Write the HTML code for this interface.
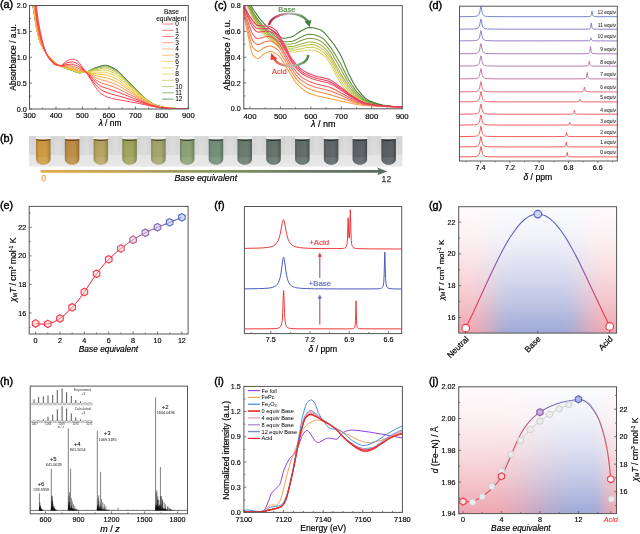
<!DOCTYPE html>
<html><head><meta charset="utf-8"><title>Figure</title>
<style>
html,body{margin:0;padding:0;background:#fff;width:640px;height:534px;overflow:hidden}
svg{display:block}
text{font-family:"Liberation Sans","DejaVu Sans",sans-serif}
</style></head><body>
<svg width="640" height="534" viewBox="0 0 640 534">
<rect width="640" height="534" fill="#fff"/>
<clipPath id="ca"><rect x="29.5" y="5.5" width="158.8" height="103.5"/></clipPath>
<g clip-path="url(#ca)" fill="none" stroke-width="1">
<path d="M29.5 -31.9L31.1 -12.1L32.7 3.5L33.5 9.2L36.7 29.1L38.3 35.9L39.4 40L40.6 43.3L42.2 46.9L43.8 49.8L45.8 52.8L47.8 55.3L51 58.8L53.8 61.6L55.8 63.2L57.8 64.5L60.5 66L63.7 67.5L67.3 68.9L73.3 70.7L77.3 72.5L78.9 72.8L82.8 72.5L85.2 72.2L86.4 72L88.4 71.2L94 68.3L99.5 66.4L102.3 65.6L104.3 65.3L105.9 65.3L107.5 65.5L109.1 66L111.5 67L115.5 69.2L118.3 71.2L121 73.9L126.2 79.3L138.6 91.9L146.9 99.7L149.3 101.6L151.7 103.1L154.9 104.7L158.1 105.9L160.8 106.7L164 107.3L168.8 108L173.6 108.4L182.3 108.9L188.3 109" stroke="#2f7038"/>
<path d="M29.5 -31.9L31.1 -12.1L32.7 3.5L33.5 9.2L36.7 29.1L38.3 35.9L39.4 40L40.6 43.3L42.2 46.9L43.8 49.8L45.8 52.8L47.8 55.3L51 58.8L53.8 61.6L55.4 62.9L57.4 64.2L60.1 65.8L63.3 67.3L66.9 68.8L73.3 70.7L76.9 72.3L78.5 72.7L82 72.6L85.2 72.2L86.4 72L88.4 71.2L94 68.6L99.5 66.8L102.3 66.1L104.3 65.8L105.9 65.7L107.5 66L109.1 66.5L111.5 67.5L115.5 69.6L118.3 71.6L121 74.2L126.2 79.6L138.6 92L146.9 99.8L149.3 101.7L151.7 103.2L154.9 104.7L158.1 105.9L160.8 106.7L164 107.3L168.8 108L173.6 108.4L182.3 108.9L188.3 109" stroke="#5e9242"/>
<path d="M29.5 -32.2L31.1 -12.3L32.7 3.3L33.5 9L36.7 29L38.3 35.9L39.4 40L40.6 43.3L42.2 46.9L43.8 49.8L45.8 52.8L47.8 55.3L51 58.8L53.8 61.6L55.4 62.9L57.4 64.2L60.1 65.8L63.3 67.3L66.9 68.7L73.3 70.7L76.9 72.3L78.5 72.7L81.6 72.6L86.4 72L88.4 71.3L93.6 69.2L99.9 67.5L102.3 67L104.3 66.8L105.9 66.8L107.5 67L109.1 67.5L111.5 68.5L115.5 70.6L118.3 72.6L121 75.1L126.2 80.4L138.6 92.4L146.9 99.9L149.3 101.8L151.7 103.3L154.9 104.8L158.1 106L160.8 106.8L164 107.3L168.8 108L173.6 108.4L182.3 108.9L188.3 109" stroke="#9cb456"/>
<path d="M29.5 -33L31.1 -13L32.7 2.9L33.5 8.7L34.7 15.8L36.3 26.5L37.1 30.8L37.9 34.2L39.1 38.6L40.2 42.2L41.8 46L43.4 49.1L45.4 52.2L47.4 54.8L51 58.9L53.8 61.6L55.4 62.9L57.4 64.2L60.1 65.8L62.9 67.1L66.5 68.5L73.3 70.6L76.9 72.2L78.5 72.6L81.2 72.5L86 72.1L88 71.6L93.6 70L102.7 68.3L105.9 68.2L107.5 68.5L109.1 69L111.5 70L115.5 72L118.3 73.9L121 76.4L126.2 81.4L138.6 93L147.3 100.5L149.7 102.3L151.7 103.4L154.9 104.9L158.1 106.1L160.8 106.8L164 107.4L168.8 108L173.6 108.4L182.3 108.9L188.3 109" stroke="#bcc246"/>
<path d="M29.5 -34.8L31.1 -14.4L32.7 1.8L33.5 7.8L36.3 26.2L37.1 30.5L37.9 34L39.1 38.4L40.2 42L41.8 45.9L43.4 49L45.4 52.2L47.4 54.8L50.6 58.5L53.4 61.3L55 62.7L57 64L59.3 65.4L62.1 66.7L66.5 68.4L73.3 70.4L76.9 72L78.5 72.4L80.8 72.4L86 72.1L93.2 70.9L96.4 70.7L103.1 70L106.3 70.2L109.1 70.9L111.5 71.9L115.5 73.8L118.3 75.6L121 77.9L126.2 82.7L138.6 93.6L147.3 100.8L149.7 102.5L151.7 103.6L155.3 105.2L158.1 106.2L160.8 106.9L164 107.4L168.8 108L173.6 108.4L182.3 108.9L188.3 109" stroke="#d6cc46"/>
<path d="M29.5 -38L31.1 -16.9L32.7 0.1L33.5 6.4L36.3 25.5L37.1 30L37.9 33.5L39.1 38L40.2 41.7L41.8 45.7L43.4 48.9L45.4 52.1L47.4 54.9L50.6 58.5L53.4 61.4L55 62.7L56.6 63.8L58.6 65L61.3 66.3L66.9 68.3L73.3 70.1L76.9 71.6L78.1 72L80.4 72.2L92.4 72L96.8 72.2L104.3 72.2L105.9 72.3L107.5 72.7L111.1 73.9L115.9 76.2L119 78.2L137 93.2L147.3 101.2L149.3 102.5L151.3 103.6L156.5 105.7L158.8 106.5L161.2 107.1L168.4 108L178.4 108.7L188.3 109" stroke="#ecd052"/>
<path d="M29.5 -43.1L31.1 -20.8L32.7 -2.8L33.5 4.1L36.3 24.5L37.5 31L38.7 35.9L39.8 40L41.4 44.4L43 47.9L45 51.5L47 54.4L50.2 58.2L53 61.1L54.6 62.5L56.2 63.6L58.2 64.8L60.9 66.1L64.9 67.4L73.3 69.6L76.9 71.1L78.1 71.5L79.6 71.7L84 71.9L87.6 72.2L92.4 73L96.8 74L105.9 74.9L108.7 75.6L112.7 77.2L116.3 78.8L119.4 80.8L137 94.2L147.3 101.6L150.9 103.7L155.7 105.6L158.5 106.5L160.8 107.1L167.6 108L177.2 108.7L188.3 109" stroke="#f4c236"/>
<path d="M29.5 -50.6L31.5 -21.2L33.1 -2.9L36.3 23L37.5 29.8L38.7 34.9L39.8 39.2L41.4 43.8L43 47.6L45 51.4L47 54.5L49 57L51.8 60.1L53.8 62L55.8 63.5L58.6 65L61.3 66.2L63.3 66.7L72.9 68.7L78.5 70.8L84.4 71.7L87.2 72.4L92.4 74.2L96.8 76L100.3 76.9L105.1 77.6L107.1 78.1L110.3 79.1L115.5 81.2L117.5 82.2L119.8 83.6L136.6 95.1L146.5 101.6L150.1 103.7L154.1 105.3L156.9 106.2L159.6 106.9L161.6 107.3L166 107.9L174.8 108.6L188.3 109" stroke="#f7b036"/>
<path d="M29.5 -60.9L31.5 -28.7L33.1 -8.2L35.9 17.7L37.1 26L38.3 31.9L39.4 36.6L41 41.9L42.6 46.2L44.6 50.5L46.6 53.9L48.6 56.7L51 59.5L53.4 61.9L55.4 63.5L57.4 64.6L60.1 65.8L62.1 66.3L70.5 67.1L73.7 67.8L78.5 69.8L84 71.3L86.8 72.4L89.2 73.6L96 77.8L98.4 78.9L101.1 79.8L107.9 81.5L116.3 84.6L120.2 86.7L136.2 96.2L146.1 102L149.3 103.7L151.7 104.7L158.1 106.7L160.8 107.3L163.6 107.7L168.4 108.2L173.6 108.5L181.9 108.9L188.3 109" stroke="#fb9a52"/>
<path d="M29.5 -74.7L31.5 -38.6L33.1 -15.1L35.5 10.9L36.3 18.1L37.1 23.7L38.3 30L39.4 35L41 40.7L42.6 45.5L44.2 49.3L46.2 53.3L47.8 55.9L50.2 58.9L52.6 61.4L55 63.5L57 64.6L59.7 65.6L61.7 66L66.1 65.7L71.7 65.9L74.1 66.5L77.7 68L84 70.9L86.8 72.6L88.8 74L96 80.1L99.5 82.2L101.9 83.2L109.1 85.4L115.5 87.6L117.9 88.6L146.5 102.9L150.9 104.8L157.7 106.8L160.4 107.4L163.2 107.7L173.2 108.5L188.3 109" stroke="#ff7452"/>
<path d="M29.5 -92.5L31.5 -51.5L33.1 -24.1L35.1 2L36.7 17.7L37.5 23.1L38.7 29.4L40.2 36.2L42.2 43.3L43.8 47.9L45.8 52.5L47.4 55.5L49.4 58.4L51.8 61.1L54.6 63.6L56.2 64.5L59.3 65.6L60.5 65.9L61.7 65.8L66.1 64.6L71.3 64.1L73.7 64.5L77.3 66L78.9 66.9L83.6 70.2L86 72L88.4 74.3L96 82.5L98.8 84.8L101.1 86.3L102.7 87L105.5 88L115.9 91.3L119 92.5L148.9 104.5L151.3 105.3L156.1 106.6L158.8 107.2L161.6 107.7L166.8 108.2L172.4 108.5L188.3 109" stroke="#ff4040"/>
<path d="M29.5 -115L31.5 -67.7L33.1 -35.5L35.1 -4.2L35.9 5.7L36.7 13.5L37.5 19.5L38.7 26.5L40.6 35.6L42.2 41.9L43.8 47.1L45.4 51.4L47.4 55.8L49 58.3L51.4 61.2L54.6 64L55.8 64.7L59 65.6L60.5 65.8L61.3 65.7L62.5 65.2L64.9 63.7L66.1 63.1L69.3 62.3L70.9 62L72.5 61.9L73.7 62.1L75.3 62.7L77.3 63.6L78.1 64.1L79.2 65.2L84 69.9L86.4 72.5L88.4 74.9L95.2 84.2L97.6 86.8L99.5 88.6L101.5 90.1L103.9 91.3L107.1 92.6L110.7 93.8L118.3 95.9L139.7 102.1L149.7 105.3L157.7 107.2L161.6 107.8L168.8 108.4L179.1 108.8L188.3 109" stroke="#ff3444"/>
<path d="M29.5 -142.6L31.5 -87.6L33.1 -49.4L34.7 -18.3L35.5 -5.8L36.3 4.2L37.1 12L38.3 20.5L39.8 29.1L41.8 38.6L43.4 44.9L45 50L47 55.2L48.6 58.2L49.8 59.9L51 61.4L54.2 64.4L55 64.9L55.8 65.2L59 65.7L60.5 65.8L61.3 65.5L62.5 64.6L64.9 62.3L66.1 61.4L68.9 60L70.9 59.3L72.5 59.1L73.7 59.2L75.3 59.7L77.3 60.7L78.1 61.3L79.2 62.7L86 72L88.4 75.7L94.8 86.2L97.2 89.5L99.9 92.6L101.9 94.3L104.7 95.9L107.9 97.3L111.5 98.3L117.1 99.5L139.3 103.5L150.1 105.9L159.2 107.7L163.2 108.1L170.4 108.5L188.3 109" stroke="#ff4a5c"/>
</g>
<rect x="29.5" y="5.5" width="158.8" height="103.5" fill="none" stroke="#555" stroke-width="1"/>
<line x1="29.5" y1="109" x2="29.5" y2="106.5" stroke="#555" stroke-width="0.8"/>
<text x="29.5" y="118.4" font-size="7.6" text-anchor="middle" fill="#000" stroke="#000" stroke-width="0.16">300</text>
<line x1="42.73" y1="109" x2="42.73" y2="107.5" stroke="#555" stroke-width="0.8"/>
<line x1="55.97" y1="109" x2="55.97" y2="106.5" stroke="#555" stroke-width="0.8"/>
<text x="55.97" y="118.4" font-size="7.6" text-anchor="middle" fill="#000" stroke="#000" stroke-width="0.16">400</text>
<line x1="69.2" y1="109" x2="69.2" y2="107.5" stroke="#555" stroke-width="0.8"/>
<line x1="82.43" y1="109" x2="82.43" y2="106.5" stroke="#555" stroke-width="0.8"/>
<text x="82.43" y="118.4" font-size="7.6" text-anchor="middle" fill="#000" stroke="#000" stroke-width="0.16">500</text>
<line x1="95.67" y1="109" x2="95.67" y2="107.5" stroke="#555" stroke-width="0.8"/>
<line x1="108.9" y1="109" x2="108.9" y2="106.5" stroke="#555" stroke-width="0.8"/>
<text x="108.9" y="118.4" font-size="7.6" text-anchor="middle" fill="#000" stroke="#000" stroke-width="0.16">600</text>
<line x1="122.13" y1="109" x2="122.13" y2="107.5" stroke="#555" stroke-width="0.8"/>
<line x1="135.37" y1="109" x2="135.37" y2="106.5" stroke="#555" stroke-width="0.8"/>
<text x="135.37" y="118.4" font-size="7.6" text-anchor="middle" fill="#000" stroke="#000" stroke-width="0.16">700</text>
<line x1="148.6" y1="109" x2="148.6" y2="107.5" stroke="#555" stroke-width="0.8"/>
<line x1="161.83" y1="109" x2="161.83" y2="106.5" stroke="#555" stroke-width="0.8"/>
<text x="161.83" y="118.4" font-size="7.6" text-anchor="middle" fill="#000" stroke="#000" stroke-width="0.16">800</text>
<line x1="175.07" y1="109" x2="175.07" y2="107.5" stroke="#555" stroke-width="0.8"/>
<line x1="188.3" y1="109" x2="188.3" y2="106.5" stroke="#555" stroke-width="0.8"/>
<text x="188.3" y="118.4" font-size="7.6" text-anchor="middle" fill="#000" stroke="#000" stroke-width="0.16">900</text>
<line x1="29.5" y1="109" x2="32" y2="109" stroke="#555" stroke-width="0.8"/>
<text x="26.8" y="111.5" font-size="7.2" text-anchor="end" fill="#000" stroke="#000" stroke-width="0.15">0.0</text>
<line x1="29.5" y1="96.06" x2="31" y2="96.06" stroke="#555" stroke-width="0.8"/>
<line x1="29.5" y1="83.12" x2="32" y2="83.12" stroke="#555" stroke-width="0.8"/>
<text x="26.8" y="85.62" font-size="7.2" text-anchor="end" fill="#000" stroke="#000" stroke-width="0.15">0.5</text>
<line x1="29.5" y1="70.19" x2="31" y2="70.19" stroke="#555" stroke-width="0.8"/>
<line x1="29.5" y1="57.25" x2="32" y2="57.25" stroke="#555" stroke-width="0.8"/>
<text x="26.8" y="59.75" font-size="7.2" text-anchor="end" fill="#000" stroke="#000" stroke-width="0.15">1.0</text>
<line x1="29.5" y1="44.31" x2="31" y2="44.31" stroke="#555" stroke-width="0.8"/>
<line x1="29.5" y1="31.38" x2="32" y2="31.38" stroke="#555" stroke-width="0.8"/>
<text x="26.8" y="33.88" font-size="7.2" text-anchor="end" fill="#000" stroke="#000" stroke-width="0.15">1.5</text>
<line x1="29.5" y1="18.44" x2="31" y2="18.44" stroke="#555" stroke-width="0.8"/>
<line x1="29.5" y1="5.5" x2="32" y2="5.5" stroke="#555" stroke-width="0.8"/>
<text x="26.8" y="8" font-size="7.2" text-anchor="end" fill="#000" stroke="#000" stroke-width="0.15">2.0</text>
<text x="15.6" y="57.4" font-size="8.5" text-anchor="middle" fill="#000" stroke="#000" stroke-width="0.18" transform="rotate(-90 15.6 57.4)">Absorbance / a.u.</text>
<text x="110" y="126" font-size="8.4" text-anchor="middle" fill="#000" stroke="#000" stroke-width="0.18"><tspan font-style="italic">λ</tspan> / nm</text>
<text x="171.4" y="13.9" font-size="6.6" text-anchor="middle" fill="#000" stroke="#000" stroke-width="0.05">Base</text>
<text x="171.2" y="21.4" font-size="6.6" text-anchor="middle" fill="#000" stroke="#000" stroke-width="0.05">equivalent</text>
<line x1="162.2" y1="24" x2="173.8" y2="24" stroke="#ff4a5c" stroke-width="0.85" opacity="0.8"/>
<text x="175.2" y="26.3" font-size="6.6" text-anchor="start" fill="#000" stroke="#000" stroke-width="0.05">0</text>
<line x1="162.2" y1="30.26" x2="173.8" y2="30.26" stroke="#ff3444" stroke-width="0.85" opacity="0.8"/>
<text x="175.2" y="32.56" font-size="6.6" text-anchor="start" fill="#000" stroke="#000" stroke-width="0.05">1</text>
<line x1="162.2" y1="36.52" x2="173.8" y2="36.52" stroke="#ff4040" stroke-width="0.85" opacity="0.8"/>
<text x="175.2" y="38.82" font-size="6.6" text-anchor="start" fill="#000" stroke="#000" stroke-width="0.05">2</text>
<line x1="162.2" y1="42.78" x2="173.8" y2="42.78" stroke="#ff7452" stroke-width="0.85" opacity="0.8"/>
<text x="175.2" y="45.08" font-size="6.6" text-anchor="start" fill="#000" stroke="#000" stroke-width="0.05">3</text>
<line x1="162.2" y1="49.04" x2="173.8" y2="49.04" stroke="#fb9a52" stroke-width="0.85" opacity="0.8"/>
<text x="175.2" y="51.34" font-size="6.6" text-anchor="start" fill="#000" stroke="#000" stroke-width="0.05">4</text>
<line x1="162.2" y1="55.3" x2="173.8" y2="55.3" stroke="#f7b036" stroke-width="0.85" opacity="0.8"/>
<text x="175.2" y="57.6" font-size="6.6" text-anchor="start" fill="#000" stroke="#000" stroke-width="0.05">5</text>
<line x1="162.2" y1="61.56" x2="173.8" y2="61.56" stroke="#f4c236" stroke-width="0.85" opacity="0.8"/>
<text x="175.2" y="63.86" font-size="6.6" text-anchor="start" fill="#000" stroke="#000" stroke-width="0.05">6</text>
<line x1="162.2" y1="67.82" x2="173.8" y2="67.82" stroke="#ecd052" stroke-width="0.85" opacity="0.8"/>
<text x="175.2" y="70.12" font-size="6.6" text-anchor="start" fill="#000" stroke="#000" stroke-width="0.05">7</text>
<line x1="162.2" y1="74.08" x2="173.8" y2="74.08" stroke="#d6cc46" stroke-width="0.85" opacity="0.8"/>
<text x="175.2" y="76.38" font-size="6.6" text-anchor="start" fill="#000" stroke="#000" stroke-width="0.05">8</text>
<line x1="162.2" y1="80.34" x2="173.8" y2="80.34" stroke="#bcc246" stroke-width="0.85" opacity="0.8"/>
<text x="175.2" y="82.64" font-size="6.6" text-anchor="start" fill="#000" stroke="#000" stroke-width="0.05">9</text>
<line x1="162.2" y1="86.6" x2="173.8" y2="86.6" stroke="#9cb456" stroke-width="0.85" opacity="0.8"/>
<text x="175.2" y="88.9" font-size="6.6" text-anchor="start" fill="#000" stroke="#000" stroke-width="0.05">10</text>
<line x1="162.2" y1="92.86" x2="173.8" y2="92.86" stroke="#5e9242" stroke-width="0.85" opacity="0.8"/>
<text x="175.2" y="95.16" font-size="6.6" text-anchor="start" fill="#000" stroke="#000" stroke-width="0.05">11</text>
<line x1="162.2" y1="99.12" x2="173.8" y2="99.12" stroke="#2f7038" stroke-width="0.85" opacity="0.8"/>
<text x="175.2" y="101.42" font-size="6.6" text-anchor="start" fill="#000" stroke="#000" stroke-width="0.05">12</text>
<text x="0" y="8" font-size="10.8" text-anchor="start" fill="#000" stroke="#000" stroke-width="0.4">(a)</text>
<defs><linearGradient id="bg_b" x1="0" y1="0" x2="0" y2="1"><stop offset="0" stop-color="#dadada"/><stop offset="0.08" stop-color="#d4d4d4"/><stop offset="0.6" stop-color="#d8d8d8"/><stop offset="0.63" stop-color="#e4e4e4"/><stop offset="1" stop-color="#e8e8e8"/></linearGradient><linearGradient id="tube_sh" x1="0" y1="0" x2="1" y2="0"><stop offset="0" stop-color="#000" stop-opacity="0.22"/><stop offset="0.25" stop-color="#fff" stop-opacity="0.04"/><stop offset="0.6" stop-color="#fff" stop-opacity="0.07"/><stop offset="1" stop-color="#000" stop-opacity="0.22"/></linearGradient><linearGradient id="tube_v" x1="0" y1="0" x2="0" y2="1"><stop offset="0" stop-color="#000" stop-opacity="0.05"/><stop offset="0.7" stop-color="#fff" stop-opacity="0"/><stop offset="0.72" stop-color="#fff" stop-opacity="0.1"/><stop offset="1" stop-color="#fff" stop-opacity="0.1"/></linearGradient><linearGradient id="arr_b" gradientUnits="userSpaceOnUse" x1="41" y1="0" x2="387" y2="0"><stop offset="0" stop-color="#e6a84c"/><stop offset="0.25" stop-color="#c3a058"/><stop offset="0.5" stop-color="#86975f"/><stop offset="0.75" stop-color="#687c64"/><stop offset="1" stop-color="#5b6a62"/></linearGradient></defs>
<rect x="29.1" y="136.0" width="373.29999999999995" height="30.599999999999994" fill="url(#bg_b)"/>
<rect x="54.7" y="137" width="6" height="17" fill="#fff" opacity="0.12"/>
<rect x="83.48" y="137" width="6" height="17" fill="#fff" opacity="0.12"/>
<rect x="112.26" y="137" width="6" height="17" fill="#fff" opacity="0.12"/>
<rect x="141.04" y="137" width="6" height="17" fill="#fff" opacity="0.12"/>
<rect x="169.82" y="137" width="6" height="17" fill="#fff" opacity="0.12"/>
<rect x="198.6" y="137" width="6" height="17" fill="#fff" opacity="0.12"/>
<rect x="227.38" y="137" width="6" height="17" fill="#fff" opacity="0.12"/>
<rect x="256.16" y="137" width="6" height="17" fill="#fff" opacity="0.12"/>
<rect x="284.94" y="137" width="6" height="17" fill="#fff" opacity="0.12"/>
<rect x="313.72" y="137" width="6" height="17" fill="#fff" opacity="0.12"/>
<rect x="342.5" y="137" width="6" height="17" fill="#fff" opacity="0.12"/>
<rect x="371.28" y="137" width="6" height="17" fill="#fff" opacity="0.12"/>
<rect x="35.9" y="136.6" width="14.8" height="3.0" rx="0.8" fill="#efefef"/>
<path d="M36.1 139.3 L50.5 139.3 L50.5 159 C50.5 162.2 47.5 164.8 43.3 164.8 C39.1 164.8 36.1 162.2 36.1 159 Z" fill="#cc9534"/>
<path d="M36.1 139.3 L50.5 139.3 L50.5 159 C50.5 162.2 47.5 164.8 43.3 164.8 C39.1 164.8 36.1 162.2 36.1 159 Z" fill="url(#tube_v)"/>
<path d="M36.1 139.3 L50.5 139.3 L50.5 159 C50.5 162.2 47.5 164.8 43.3 164.8 C39.1 164.8 36.1 162.2 36.1 159 Z" fill="url(#tube_sh)"/>
<path d="M36.1 139.3 Q43.3 140.5 50.5 139.3 L50.5 139.9 Q43.3 141.9 36.1 139.9 Z" fill="#5a3018" opacity="0.9"/>
<rect x="64.68" y="136.6" width="14.8" height="3.0" rx="0.8" fill="#efefef"/>
<path d="M64.88 139.3 L79.28 139.3 L79.28 159 C79.28 162.2 76.28 164.8 72.08 164.8 C67.88 164.8 64.88 162.2 64.88 159 Z" fill="#ba8738"/>
<path d="M64.88 139.3 L79.28 139.3 L79.28 159 C79.28 162.2 76.28 164.8 72.08 164.8 C67.88 164.8 64.88 162.2 64.88 159 Z" fill="url(#tube_v)"/>
<path d="M64.88 139.3 L79.28 139.3 L79.28 159 C79.28 162.2 76.28 164.8 72.08 164.8 C67.88 164.8 64.88 162.2 64.88 159 Z" fill="url(#tube_sh)"/>
<path d="M64.88 139.3 Q72.08 140.5 79.28 139.3 L79.28 139.9 Q72.08 141.9 64.88 139.9 Z" fill="#5a3018" opacity="0.9"/>
<rect x="93.46" y="136.6" width="14.8" height="3.0" rx="0.8" fill="#efefef"/>
<path d="M93.66 139.3 L108.06 139.3 L108.06 159 C108.06 162.2 105.06 164.8 100.86 164.8 C96.66 164.8 93.66 162.2 93.66 159 Z" fill="#b2a056"/>
<path d="M93.66 139.3 L108.06 139.3 L108.06 159 C108.06 162.2 105.06 164.8 100.86 164.8 C96.66 164.8 93.66 162.2 93.66 159 Z" fill="url(#tube_v)"/>
<path d="M93.66 139.3 L108.06 139.3 L108.06 159 C108.06 162.2 105.06 164.8 100.86 164.8 C96.66 164.8 93.66 162.2 93.66 159 Z" fill="url(#tube_sh)"/>
<path d="M93.66 139.3 Q100.86 140.5 108.06 139.3 L108.06 139.9 Q100.86 141.9 93.66 139.9 Z" fill="#4a3a20" opacity="0.9"/>
<rect x="122.24" y="136.6" width="14.8" height="3.0" rx="0.8" fill="#efefef"/>
<path d="M122.44 139.3 L136.84 139.3 L136.84 159 C136.84 162.2 133.84 164.8 129.64 164.8 C125.44 164.8 122.44 162.2 122.44 159 Z" fill="#9aa052"/>
<path d="M122.44 139.3 L136.84 139.3 L136.84 159 C136.84 162.2 133.84 164.8 129.64 164.8 C125.44 164.8 122.44 162.2 122.44 159 Z" fill="url(#tube_v)"/>
<path d="M122.44 139.3 L136.84 139.3 L136.84 159 C136.84 162.2 133.84 164.8 129.64 164.8 C125.44 164.8 122.44 162.2 122.44 159 Z" fill="url(#tube_sh)"/>
<path d="M122.44 139.3 Q129.64 140.5 136.84 139.3 L136.84 139.9 Q129.64 141.9 122.44 139.9 Z" fill="#3a3a20" opacity="0.9"/>
<rect x="151.02" y="136.6" width="14.8" height="3.0" rx="0.8" fill="#efefef"/>
<path d="M151.22 139.3 L165.62 139.3 L165.62 159 C165.62 162.2 162.62 164.8 158.42 164.8 C154.22 164.8 151.22 162.2 151.22 159 Z" fill="#9ea062"/>
<path d="M151.22 139.3 L165.62 139.3 L165.62 159 C165.62 162.2 162.62 164.8 158.42 164.8 C154.22 164.8 151.22 162.2 151.22 159 Z" fill="url(#tube_v)"/>
<path d="M151.22 139.3 L165.62 139.3 L165.62 159 C165.62 162.2 162.62 164.8 158.42 164.8 C154.22 164.8 151.22 162.2 151.22 159 Z" fill="url(#tube_sh)"/>
<path d="M151.22 139.3 Q158.42 140.5 165.62 139.3 L165.62 139.9 Q158.42 141.9 151.22 139.9 Z" fill="#303828" opacity="0.9"/>
<rect x="179.8" y="136.6" width="14.8" height="3.0" rx="0.8" fill="#efefef"/>
<path d="M180 139.3 L194.4 139.3 L194.4 159 C194.4 162.2 191.4 164.8 187.2 164.8 C183 164.8 180 162.2 180 159 Z" fill="#869c6e"/>
<path d="M180 139.3 L194.4 139.3 L194.4 159 C194.4 162.2 191.4 164.8 187.2 164.8 C183 164.8 180 162.2 180 159 Z" fill="url(#tube_v)"/>
<path d="M180 139.3 L194.4 139.3 L194.4 159 C194.4 162.2 191.4 164.8 187.2 164.8 C183 164.8 180 162.2 180 159 Z" fill="url(#tube_sh)"/>
<path d="M180 139.3 Q187.2 140.5 194.4 139.3 L194.4 139.9 Q187.2 141.9 180 139.9 Z" fill="#2c3428" opacity="0.9"/>
<rect x="208.58" y="136.6" width="14.8" height="3.0" rx="0.8" fill="#efefef"/>
<path d="M208.78 139.3 L223.18 139.3 L223.18 159 C223.18 162.2 220.18 164.8 215.98 164.8 C211.78 164.8 208.78 162.2 208.78 159 Z" fill="#6c8870"/>
<path d="M208.78 139.3 L223.18 139.3 L223.18 159 C223.18 162.2 220.18 164.8 215.98 164.8 C211.78 164.8 208.78 162.2 208.78 159 Z" fill="url(#tube_v)"/>
<path d="M208.78 139.3 L223.18 139.3 L223.18 159 C223.18 162.2 220.18 164.8 215.98 164.8 C211.78 164.8 208.78 162.2 208.78 159 Z" fill="url(#tube_sh)"/>
<path d="M208.78 139.3 Q215.98 140.5 223.18 139.3 L223.18 139.9 Q215.98 141.9 208.78 139.9 Z" fill="#283028" opacity="0.9"/>
<rect x="237.36" y="136.6" width="14.8" height="3.0" rx="0.8" fill="#efefef"/>
<path d="M237.56 139.3 L251.96 139.3 L251.96 159 C251.96 162.2 248.96 164.8 244.76 164.8 C240.56 164.8 237.56 162.2 237.56 159 Z" fill="#607466"/>
<path d="M237.56 139.3 L251.96 139.3 L251.96 159 C251.96 162.2 248.96 164.8 244.76 164.8 C240.56 164.8 237.56 162.2 237.56 159 Z" fill="url(#tube_v)"/>
<path d="M237.56 139.3 L251.96 139.3 L251.96 159 C251.96 162.2 248.96 164.8 244.76 164.8 C240.56 164.8 237.56 162.2 237.56 159 Z" fill="url(#tube_sh)"/>
<path d="M237.56 139.3 Q244.76 140.5 251.96 139.3 L251.96 139.9 Q244.76 141.9 237.56 139.9 Z" fill="#283028" opacity="0.9"/>
<rect x="266.14" y="136.6" width="14.8" height="3.0" rx="0.8" fill="#efefef"/>
<path d="M266.34 139.3 L280.74 139.3 L280.74 159 C280.74 162.2 277.74 164.8 273.54 164.8 C269.34 164.8 266.34 162.2 266.34 159 Z" fill="#5a6a62"/>
<path d="M266.34 139.3 L280.74 139.3 L280.74 159 C280.74 162.2 277.74 164.8 273.54 164.8 C269.34 164.8 266.34 162.2 266.34 159 Z" fill="url(#tube_v)"/>
<path d="M266.34 139.3 L280.74 139.3 L280.74 159 C280.74 162.2 277.74 164.8 273.54 164.8 C269.34 164.8 266.34 162.2 266.34 159 Z" fill="url(#tube_sh)"/>
<path d="M266.34 139.3 Q273.54 140.5 280.74 139.3 L280.74 139.9 Q273.54 141.9 266.34 139.9 Z" fill="#262c2c" opacity="0.9"/>
<rect x="294.92" y="136.6" width="14.8" height="3.0" rx="0.8" fill="#efefef"/>
<path d="M295.12 139.3 L309.52 139.3 L309.52 159 C309.52 162.2 306.52 164.8 302.32 164.8 C298.12 164.8 295.12 162.2 295.12 159 Z" fill="#586462"/>
<path d="M295.12 139.3 L309.52 139.3 L309.52 159 C309.52 162.2 306.52 164.8 302.32 164.8 C298.12 164.8 295.12 162.2 295.12 159 Z" fill="url(#tube_v)"/>
<path d="M295.12 139.3 L309.52 139.3 L309.52 159 C309.52 162.2 306.52 164.8 302.32 164.8 C298.12 164.8 295.12 162.2 295.12 159 Z" fill="url(#tube_sh)"/>
<path d="M295.12 139.3 Q302.32 140.5 309.52 139.3 L309.52 139.9 Q302.32 141.9 295.12 139.9 Z" fill="#262a2c" opacity="0.9"/>
<rect x="323.7" y="136.6" width="14.8" height="3.0" rx="0.8" fill="#efefef"/>
<path d="M323.9 139.3 L338.3 139.3 L338.3 159 C338.3 162.2 335.3 164.8 331.1 164.8 C326.9 164.8 323.9 162.2 323.9 159 Z" fill="#555d5f"/>
<path d="M323.9 139.3 L338.3 139.3 L338.3 159 C338.3 162.2 335.3 164.8 331.1 164.8 C326.9 164.8 323.9 162.2 323.9 159 Z" fill="url(#tube_v)"/>
<path d="M323.9 139.3 L338.3 139.3 L338.3 159 C338.3 162.2 335.3 164.8 331.1 164.8 C326.9 164.8 323.9 162.2 323.9 159 Z" fill="url(#tube_sh)"/>
<path d="M323.9 139.3 Q331.1 140.5 338.3 139.3 L338.3 139.9 Q331.1 141.9 323.9 139.9 Z" fill="#26282a" opacity="0.9"/>
<rect x="352.48" y="136.6" width="14.8" height="3.0" rx="0.8" fill="#efefef"/>
<path d="M352.68 139.3 L367.08 139.3 L367.08 159 C367.08 162.2 364.08 164.8 359.88 164.8 C355.68 164.8 352.68 162.2 352.68 159 Z" fill="#51585c"/>
<path d="M352.68 139.3 L367.08 139.3 L367.08 159 C367.08 162.2 364.08 164.8 359.88 164.8 C355.68 164.8 352.68 162.2 352.68 159 Z" fill="url(#tube_v)"/>
<path d="M352.68 139.3 L367.08 139.3 L367.08 159 C367.08 162.2 364.08 164.8 359.88 164.8 C355.68 164.8 352.68 162.2 352.68 159 Z" fill="url(#tube_sh)"/>
<path d="M352.68 139.3 Q359.88 140.5 367.08 139.3 L367.08 139.9 Q359.88 141.9 352.68 139.9 Z" fill="#262628" opacity="0.9"/>
<rect x="381.26" y="136.6" width="14.8" height="3.0" rx="0.8" fill="#efefef"/>
<path d="M381.46 139.3 L395.86 139.3 L395.86 159 C395.86 162.2 392.86 164.8 388.66 164.8 C384.46 164.8 381.46 162.2 381.46 159 Z" fill="#4e5458"/>
<path d="M381.46 139.3 L395.86 139.3 L395.86 159 C395.86 162.2 392.86 164.8 388.66 164.8 C384.46 164.8 381.46 162.2 381.46 159 Z" fill="url(#tube_v)"/>
<path d="M381.46 139.3 L395.86 139.3 L395.86 159 C395.86 162.2 392.86 164.8 388.66 164.8 C384.46 164.8 381.46 162.2 381.46 159 Z" fill="url(#tube_sh)"/>
<path d="M381.46 139.3 Q388.66 140.5 395.86 139.3 L395.86 139.9 Q388.66 141.9 381.46 139.9 Z" fill="#262628" opacity="0.9"/>
<path d="M41.8 171.4 L379 171.4" stroke="url(#arr_b)" stroke-width="2.8" stroke-linecap="round" fill="none"/>
<path d="M377.2 167.6 L387.4 171.4 L377.2 175.2 L379.2 171.4 Z" fill="#5b6a62"/>
<text x="43.6" y="181" font-size="8.6" text-anchor="middle" fill="#e6a84c" stroke="#e6a84c" stroke-width="0.3">0</text>
<text x="386.4" y="181.6" font-size="8.6" text-anchor="middle" fill="#3c4440" stroke="#3c4440" stroke-width="0.25">12</text>
<text x="205.8" y="180.9" font-size="8.8" text-anchor="middle" fill="#000" font-style="italic" stroke="#000" stroke-width="0.18">Base equivalent</text>
<text x="0" y="142.4" font-size="10.8" text-anchor="start" fill="#000" stroke="#000" stroke-width="0.4">(b)</text>
<clipPath id="cc"><rect x="243.8" y="5.6" width="158.5" height="103.2"/></clipPath>
<g clip-path="url(#cc)" fill="none" stroke-width="1.05">
<path d="M240.9 -8.2L244.6 0.2L252.9 18.5L255.2 23L257.5 26.8L260.3 30.3L263.5 33.8L275.1 44.1L277.8 46.4L280.2 47.8L284.8 49.9L288 51.2L290.8 51.8L292.6 52L295.4 51.9L304.6 50.6L310.2 50.1L313 50L314.3 50.2L316.2 50.8L318 51.8L320.4 53.2L323.6 55.4L325.4 57.1L327.7 59.9L330.1 63.1L331.4 65.4L335.6 74.3L338.4 79.3L342.1 85.4L344.8 89.2L348.5 93.2L351.8 96.2L354.6 98.2L358.7 100.4L362.4 102.1L365.6 103.2L368.4 103.8L373.5 104.7L379 105.4L385.5 106.1L394.8 106.7L402.1 107" stroke="#ddd060"/>
<path d="M240.9 -8.9L245 0.5L252.4 16.4L255.2 21.7L257.5 25.5L260.7 29.6L264 32.9L275.1 42.8L277.8 45L280.2 46.5L284.3 48.4L287.5 49.4L290.8 50L292.6 50.1L294.9 49.9L304.6 48L307.9 47.6L310.7 47.4L312.5 47.3L313.9 47.5L315.7 48L317.6 48.8L320.4 50.4L323.6 52.6L325.4 54.3L327.7 57.1L331 61.7L336.1 71.8L340.2 79.1L343.9 85L346.7 88.7L349.5 91.9L352.7 95.1L355.5 97.3L359.6 99.8L363.3 101.7L366.6 102.9L370.7 103.9L376.7 105L383.2 105.8L393.8 106.6L402.1 107" stroke="#cfca56"/>
<path d="M240.9 -9.6L245 -0.3L252 14.3L254.7 19.6L257.5 24.2L260.7 28.2L264.4 32.1L275.1 41.4L278.3 44L280.6 45.4L283.8 46.8L287.1 47.8L290.3 48.2L292.6 48.2L294.5 48L304.2 45.5L307 45L309.3 44.7L312 44.6L313.9 44.8L315.7 45.3L318 46.3L320.8 47.9L323.6 49.8L325.4 51.6L327.7 54.3L330.5 58.1L331.4 59.6L336.1 68.5L342.5 79.6L345.8 84.7L348.5 88.5L351.8 92.3L354.6 95L357.3 97.2L361.5 99.9L365.2 101.8L368 102.8L372.6 104L378.6 105.1L384.6 105.8L394.3 106.6L402.1 107" stroke="#bcc050"/>
<path d="M240.9 -10.3L245.5 -0.1L251 11.4L254.7 18.4L257.5 22.8L260.7 26.9L264.4 30.8L268.6 34.5L276 40.9L278.3 42.7L280.6 44.1L283.8 45.5L287.1 46.2L289.9 46.5L292.2 46.4L294 46.2L304.2 42.9L306.5 42.4L308.8 42L311.6 42L313.9 42.2L316.2 42.8L319 44.1L321.7 45.7L324.1 47.4L326.4 49.8L328.7 52.7L331.4 56.7L335.6 64.4L343.9 78.9L348.1 85.5L350.9 89.2L353.6 92.4L356.4 95.1L359.2 97.4L362.9 99.9L366.1 101.7L369.3 102.8L374.4 104.1L380 105.1L386 105.9L394.8 106.6L402.1 107" stroke="#a2b248"/>
<path d="M240.9 -11.3L245 -2.1L250.1 8.2L254.3 15.9L257.5 21.1L261.2 25.7L264.9 29.5L269.1 33.3L278.3 40.9L280.6 42.4L283.4 43.5L285.7 44L288.5 44.2L291.2 44.1L294 43.6L295.9 42.9L300 41L304.2 39.5L306.5 38.8L308.8 38.4L312 38.4L314.3 38.7L317.1 39.6L320.8 41.3L323.1 42.9L325 44.6L327.3 47.2L330.5 51.4L332.4 54.3L340.7 68.7L346.2 79.1L349 83.7L352.2 88.3L355 91.8L357.8 94.6L361.5 97.8L364.3 99.9L367 101.4L371.2 102.9L376.3 104.2L381.4 105.2L388.3 106L395.7 106.7L402.1 107" stroke="#86a042"/>
<path d="M240.9 -12.4L245 -3.3L249.7 5.9L254.3 14.1L258 19.7L261.7 24.3L265.4 28.1L269.5 31.7L278.3 38.9L281.1 40.6L283.4 41.5L284.8 41.8L286.6 41.8L289.9 41.6L292.2 41.2L294 40.7L295.9 39.8L299.6 37.7L304.2 35.6L307 34.6L309.3 34.3L312.5 34.4L314.8 34.9L318 35.9L321.3 37.4L323.6 39L325.4 40.9L327.7 43.6L331.4 48.4L337 57.4L340.7 63.7L347.6 77.7L349 80.3L351.8 84.8L354.6 88.9L356.9 91.8L360.1 95.2L362.9 97.7L365.6 99.8L368 101.1L372.6 102.8L377.7 104.3L382.3 105.2L390.1 106.2L396.6 106.7L402.1 107" stroke="#66903c"/>
<path d="M240.9 -14.2L245 -5.2L249.2 2.8L254.3 11L258.9 17.6L262.6 22.1L266.3 25.8L269.5 28.6L278.8 35.9L281.1 37.4L282.5 38L283.4 38.2L284.3 38.2L286.2 38.1L289.4 37.4L293.1 36.2L294 35.8L295.4 34.9L300 31.5L305.6 28.5L307 27.9L308.3 27.6L311.1 27.6L314.3 28.1L318.5 29.3L320.8 30.1L321.7 30.6L324.1 32.5L326.8 35.5L332.4 42.3L336.5 48.3L338.8 52.1L341.2 56.2L343 60.3L348.5 73.6L353.6 83.3L355.9 87.1L357.8 89.7L361.5 94.3L364.3 97.2L366.6 99.1L369.3 100.7L374 102.6L378.6 104.1L382.7 105L391.1 106.2L397.1 106.8L402.1 107" stroke="#447a34"/>
<path d="M240.9 -17.8L242.7 5L244.1 15.4L245.5 23.3L250.1 45.3L251.5 51.3L252.4 54L252.9 54.9L255.2 57.3L256.1 57.9L257 58.3L258 58.5L258.9 58.3L260.3 57.3L262.6 55L264 53.9L267.2 52.3L269.5 51.6L270.9 51.5L272.3 51.8L274.1 52.5L276 53.6L278.8 55.6L280.6 57.9L293.6 79.2L295.4 81.9L297.2 84.2L300.9 87.7L305.1 90.9L308.8 93L312.5 94.5L317.6 95.9L329.1 98.6L343.9 101.7L353.2 103.8L358.2 104.7L365.2 105.4L374.4 106.1L389.7 106.8L402.1 107.2" stroke="#f5a040"/>
<path d="M240.9 -15.7L242.7 3.8L244.1 13L245.5 20L250.1 39.1L251.5 44.1L252.4 46.6L252.9 47.4L254.3 49L255.7 50.3L256.6 50.9L257.5 51.2L258.4 51.2L258.9 51.1L260.3 50.4L262.6 48.6L264 47.7L267.2 46.5L269.5 46L270.9 46.1L272.3 46.5L274.1 47.3L276 48.5L278.3 50.5L280.2 52.8L282 55.8L292.2 73L294.5 76.6L296.8 79.6L300 82.8L303.3 85.4L307 87.8L310.7 89.5L313.4 90.5L316.7 91.4L325.4 93.4L331 94.9L342.5 98.6L352.7 102.1L357.3 103.4L360.6 104.1L366.6 105L376.7 106L390.1 106.8L402.1 107.2" stroke="#f68848"/>
<path d="M240.9 -13.8L242.7 2.8L243.6 8.5L244.6 13L246.4 20.4L250.1 33.4L251.5 37.7L252.4 39.8L252.9 40.6L255.2 43.2L256.6 44.2L257.5 44.6L258.4 44.6L259.4 44.4L264 42.1L267.2 41.2L269.1 41L270.4 41.1L272.3 41.6L274.1 42.6L276 43.9L278.3 46.2L280.2 48.8L290.8 67.3L294 72.3L295.9 74.8L297.7 76.9L300 79.1L302.3 80.9L306.5 83.6L308.8 84.8L311.1 85.8L316.2 87.4L325.9 89.7L330.5 91L333.8 92.3L341.6 95.6L352.2 100.4L357.8 102.5L361.5 103.6L364.3 104.2L368 104.8L377.7 105.9L390.6 106.7L402.1 107.1" stroke="#f57050"/>
<path d="M240.9 -12.1L242.7 1.9L243.6 6.8L244.6 10.8L246.4 17.3L249.7 27L251.5 31.9L252.9 34.5L255.2 37.2L256.6 38.2L257.5 38.6L258.4 38.7L259.4 38.6L264 37L267.2 36.5L269.1 36.4L270.4 36.6L272.3 37.3L274.1 38.4L276 39.7L277.8 41.7L279.7 44.4L290.3 63.3L293.1 67.7L295.4 70.8L297.2 73L300 75.7L302.3 77.6L304.6 79.1L307 80.4L309.3 81.5L312 82.6L317.1 84.2L326.8 86.4L329.1 87.1L331 87.8L334.2 89.3L341.6 93.2L352.2 99L358.2 101.7L362.4 103.2L365.2 103.9L368.9 104.6L378.1 105.8L391.1 106.7L402.1 107.1" stroke="#f35a58"/>
<path d="M240.9 -10.2L242.7 0.9L243.6 5L245 9.8L246.9 15L249.2 20.6L251 24.5L252.9 27.7L255.2 30.5L256.6 31.6L257.5 32L259.4 32.1L263.5 31.5L265.8 31.3L268.1 31.2L269.1 31.3L270.4 31.6L272.3 32.5L274.1 33.7L276 35.1L277.4 36.7L279.2 39.5L284.3 48.7L289.4 58.2L292.2 62.9L294.9 66.6L297.2 69.3L299.6 71.6L301.9 73.5L304.2 75L306.5 76.3L309.3 77.6L312 78.7L317.1 80.3L326.4 82.4L328.7 83.1L330.5 83.9L334.2 85.9L341.6 90.5L349.5 95.8L352.2 97.5L358.7 101L361 102L363.3 102.9L365.6 103.5L370.3 104.5L374.4 105.2L379 105.7L391.5 106.7L402.1 107" stroke="#f04a5c"/>
<path d="M240.9 -9.2L242.3 -1.9L243.2 2.3L244.1 5.7L245.5 9.7L247.3 14.2L249.2 18.1L251.5 22.2L253.3 24.9L254.7 26.7L255.7 27.6L256.6 28.3L257.5 28.7L259.8 28.8L266.3 28.6L269.1 28.7L270.4 29.2L272.3 30.1L274.1 31.3L276 32.8L277.4 34.4L279.2 37.4L289.4 56.5L292.2 61.1L294.5 64.2L297.2 67.4L299.6 69.7L301.9 71.6L304.2 73.1L306.5 74.4L309.3 75.7L312 76.8L317.1 78.4L326.4 80.4L328.7 81.2L330.5 82L334.2 84.2L341.6 89.1L349 94.6L351.8 96.5L358.7 100.5L361 101.6L363.3 102.6L365.6 103.3L370.3 104.3L374.4 105.1L379 105.7L391.5 106.6L402.1 107" stroke="#ee4060"/>
<path d="M240.9 -8.2L243.2 1.6L244.1 4.6L245.5 8.2L246.9 11.3L248.7 14.8L250.1 16.9L253.8 22.2L255.7 24.2L256.6 25L257.5 25.4L259.8 25.6L266.7 25.9L269.1 26.2L270.4 26.7L272.3 27.7L274.1 28.9L276 30.4L277.4 32.2L278.8 34.5L284.8 45.7L289.4 54.7L291.7 58.7L293.6 61.2L296.8 65L299.6 67.8L301.9 69.7L303.7 70.9L306.5 72.5L309.3 73.7L312 74.8L317.1 76.5L326.4 78.5L328.7 79.3L330.5 80.1L334.2 82.4L341.6 87.8L349 93.7L351.8 95.7L359.2 100.3L361.5 101.5L363.8 102.5L366.1 103.2L370.7 104.2L374.9 105L379 105.6L391.5 106.6L402.1 107" stroke="#ec3860"/>
</g>
<rect x="243.8" y="5.6" width="158.5" height="103.2" fill="none" stroke="#555" stroke-width="1"/>
<line x1="250" y1="108.8" x2="250" y2="106.3" stroke="#555" stroke-width="0.8"/>
<text x="250" y="118.6" font-size="7.8" text-anchor="middle" fill="#000" stroke="#000" stroke-width="0.16">400</text>
<line x1="265.21" y1="108.8" x2="265.21" y2="107.3" stroke="#555" stroke-width="0.8"/>
<line x1="280.43" y1="108.8" x2="280.43" y2="106.3" stroke="#555" stroke-width="0.8"/>
<text x="280.43" y="118.6" font-size="7.8" text-anchor="middle" fill="#000" stroke="#000" stroke-width="0.16">500</text>
<line x1="295.64" y1="108.8" x2="295.64" y2="107.3" stroke="#555" stroke-width="0.8"/>
<line x1="310.86" y1="108.8" x2="310.86" y2="106.3" stroke="#555" stroke-width="0.8"/>
<text x="310.86" y="118.6" font-size="7.8" text-anchor="middle" fill="#000" stroke="#000" stroke-width="0.16">600</text>
<line x1="326.07" y1="108.8" x2="326.07" y2="107.3" stroke="#555" stroke-width="0.8"/>
<line x1="341.29" y1="108.8" x2="341.29" y2="106.3" stroke="#555" stroke-width="0.8"/>
<text x="341.29" y="118.6" font-size="7.8" text-anchor="middle" fill="#000" stroke="#000" stroke-width="0.16">700</text>
<line x1="356.5" y1="108.8" x2="356.5" y2="107.3" stroke="#555" stroke-width="0.8"/>
<line x1="371.72" y1="108.8" x2="371.72" y2="106.3" stroke="#555" stroke-width="0.8"/>
<text x="371.72" y="118.6" font-size="7.8" text-anchor="middle" fill="#000" stroke="#000" stroke-width="0.16">800</text>
<line x1="386.94" y1="108.8" x2="386.94" y2="107.3" stroke="#555" stroke-width="0.8"/>
<line x1="402.15" y1="108.8" x2="402.15" y2="106.3" stroke="#555" stroke-width="0.8"/>
<text x="402.15" y="118.6" font-size="7.8" text-anchor="middle" fill="#000" stroke="#000" stroke-width="0.16">900</text>
<line x1="243.8" y1="108.8" x2="246.3" y2="108.8" stroke="#555" stroke-width="0.8"/>
<text x="240.8" y="111.3" font-size="7.2" text-anchor="end" fill="#000" stroke="#000" stroke-width="0.15">0.0</text>
<line x1="243.8" y1="95.9" x2="245.3" y2="95.9" stroke="#555" stroke-width="0.8"/>
<line x1="243.8" y1="83" x2="246.3" y2="83" stroke="#555" stroke-width="0.8"/>
<text x="240.8" y="85.5" font-size="7.2" text-anchor="end" fill="#000" stroke="#000" stroke-width="0.15">0.2</text>
<line x1="243.8" y1="70.1" x2="245.3" y2="70.1" stroke="#555" stroke-width="0.8"/>
<line x1="243.8" y1="57.2" x2="246.3" y2="57.2" stroke="#555" stroke-width="0.8"/>
<text x="240.8" y="59.7" font-size="7.2" text-anchor="end" fill="#000" stroke="#000" stroke-width="0.15">0.4</text>
<line x1="243.8" y1="44.3" x2="245.3" y2="44.3" stroke="#555" stroke-width="0.8"/>
<line x1="243.8" y1="31.4" x2="246.3" y2="31.4" stroke="#555" stroke-width="0.8"/>
<text x="240.8" y="33.9" font-size="7.2" text-anchor="end" fill="#000" stroke="#000" stroke-width="0.15">0.6</text>
<line x1="243.8" y1="18.5" x2="245.3" y2="18.5" stroke="#555" stroke-width="0.8"/>
<line x1="243.8" y1="5.6" x2="246.3" y2="5.6" stroke="#555" stroke-width="0.8"/>
<text x="240.8" y="8.1" font-size="7.2" text-anchor="end" fill="#000" stroke="#000" stroke-width="0.15">0.8</text>
<text x="229.9" y="55.1" font-size="9" text-anchor="middle" fill="#000" stroke="#000" stroke-width="0.19" transform="rotate(-90 229.9 55.1)">Absorbance / a.u.</text>
<text x="323.3" y="126.5" font-size="9" text-anchor="middle" fill="#000" stroke="#000" stroke-width="0.19"><tspan font-style="italic">λ</tspan> / nm</text>
<defs><linearGradient id="arrU" gradientUnits="userSpaceOnUse" x1="268" y1="0" x2="310" y2="0"><stop offset="0" stop-color="#b01c3c"/><stop offset="0.5" stop-color="#c0b8c0"/><stop offset="1" stop-color="#3f7f36"/></linearGradient><linearGradient id="arrL" gradientUnits="userSpaceOnUse" x1="272" y1="0" x2="310" y2="0"><stop offset="0" stop-color="#f03c2c"/><stop offset="0.5" stop-color="#c8c0b8"/><stop offset="1" stop-color="#3f7f36"/></linearGradient></defs>
<path d="M269 25 C272 12 300 9 308 22" fill="none" stroke="url(#arrU)" stroke-width="2.4"/>
<path d="M304.5 21.5 L311.5 20 L309.5 27 Z" fill="#3f7f36"/>
<path d="M308.2 55 C308 67.5 279 70 274.2 58.5" fill="none" stroke="url(#arrL)" stroke-width="2.4"/>
<path d="M277.5 59 L271 53 L270.5 60 Z" fill="#f03c2c"/>
<text x="286.8" y="12" font-size="7.5" text-anchor="middle" fill="#4f8a40" stroke="#4f8a40" stroke-width="0.16">Base</text>
<text x="279.3" y="73.8" font-size="7.5" text-anchor="middle" fill="#f0402c" stroke="#f0402c" stroke-width="0.16">Acid</text>
<text x="214.3" y="8.6" font-size="10.8" text-anchor="start" fill="#000" stroke="#000" stroke-width="0.4">(c)</text>
<clipPath id="cd"><rect x="459.5" y="6.2" width="157.79999999999995" height="154.8"/></clipPath>
<g clip-path="url(#cd)" fill="none" stroke-width="0.9">
<path d="M459.5 156.9L473.2 156.7L475.8 156.5L477.4 156L477.9 155.7L478.5 155.3L479 154.5L479.3 153.9L479.8 152.1L480.6 147.5L480.8 146.6L481.1 147L482.2 152.7L482.4 153.6L482.9 154.8L483.7 155.7L484.5 156.1L485.8 156.5L487.4 156.6L492.2 156.8L502.7 156.9L555.7 156.9L564.1 156.8L565.4 156.6L565.9 156.4L566.2 156.1L566.5 155.7L566.7 154.8L567 153.2L567.2 152.4L567.8 155.2L568 155.9L568.6 156.5L569.1 156.7L569.9 156.8L576.2 156.9L617.3 156.9" stroke="#f04848"/>
<path d="M459.5 146.9L473.2 146.7L475.8 146.5L477.4 146L477.9 145.7L478.5 145.3L479 144.5L479.3 143.9L479.8 142.1L480.6 137.5L480.8 136.6L481.1 137L482.2 142.7L482.4 143.6L482.9 144.8L483.7 145.7L484.5 146.1L485.8 146.5L487.4 146.6L492.2 146.8L502.7 146.9L554.6 146.9L563 146.8L564.6 146.6L565.1 146.2L565.4 145.9L565.7 145.2L566.2 142.2L566.5 142.4L566.7 144.2L567 145.4L567.2 146L567.8 146.5L568.3 146.7L569.1 146.8L575.4 146.9L617.3 146.9" stroke="#f04848"/>
<path d="M459.5 136.6L473.2 136.4L475.8 136.2L477.4 135.7L477.9 135.4L478.5 135L479 134.2L479.3 133.6L479.8 131.8L480.6 127.2L480.8 126.3L481.1 126.7L482.2 132.4L482.4 133.3L482.9 134.5L483.7 135.4L484.5 135.8L485.8 136.2L487.4 136.3L491.9 136.5L501.9 136.6L554.3 136.6L563.3 136.5L564.9 136.3L565.4 136.1L565.7 135.8L565.9 135.3L566.2 134.3L566.5 132.8L566.7 132.7L567.2 135.2L567.5 135.8L568 136.2L569.4 136.5L575.7 136.6L617.3 136.6" stroke="#f04848"/>
<path d="M459.5 125.1L473.2 124.9L475.8 124.7L477.4 124.2L477.9 123.9L478.5 123.5L479 122.7L479.3 122.1L479.8 120.3L480.6 115.7L480.8 114.8L481.1 115.2L482.2 120.9L482.4 121.8L482.9 123L483.7 123.9L484.5 124.3L485.8 124.7L487.4 124.8L491.9 125L501.4 125.1L566.5 125L568 124.9L568.6 124.7L568.8 124.5L569.1 124.1L569.6 122.4L569.9 122.7L570.1 123.7L570.4 124.3L570.7 124.6L571.2 124.9L572.3 125L578 125.1L617.3 125.1" stroke="#f04a4e"/>
<path d="M459.5 114.2L473.2 114L475.8 113.8L477.4 113.3L477.9 113L478.5 112.6L479 111.8L479.3 111.2L479.8 109.4L480.6 104.8L480.8 103.9L481.1 104.3L482.2 110L482.4 110.9L482.9 112.1L483.7 113L484.5 113.4L485.8 113.8L487.4 113.9L492.2 114.1L502.7 114.2L562 114.2L571.2 114.1L572.5 114L573.3 113.6L573.6 113.3L573.8 112.7L574.4 110.4L574.6 111.1L574.9 112.4L575.1 113.2L575.4 113.6L575.9 113.9L577 114.1L582.5 114.2L617.3 114.2" stroke="#ee4e56"/>
<path d="M459.5 101.9L473.2 101.7L475.8 101.5L477.4 101L477.9 100.7L478.5 100.3L479 99.5L479.3 98.9L479.8 97.1L480.6 92.5L480.8 91.6L481.1 92L482.2 97.7L482.4 98.6L482.9 99.8L483.7 100.7L484.5 101.1L485.8 101.5L487.4 101.6L491.9 101.8L501.9 101.9L576.2 101.9L578 101.7L578.8 101.4L579.1 101.1L579.4 100.5L579.6 99.5L579.9 99.2L580.4 100.9L580.7 101.3L581.2 101.6L582.3 101.8L587.5 101.9L617.3 101.9" stroke="#ec5460"/>
<path d="M459.5 91.9L473.2 91.7L475.8 91.5L477.4 91L477.9 90.7L478.5 90.3L479 89.5L479.3 88.9L479.8 87.1L480.6 82.5L480.8 81.6L481.1 82L482.2 87.7L482.4 88.6L482.9 89.8L483.7 90.7L484.5 91.1L485.8 91.5L487.4 91.6L492.4 91.8L503.8 91.9L570.9 91.9L580.9 91.8L582 91.7L582.8 91.6L583.3 91.2L583.6 90.9L583.8 90.2L584.4 87.1L584.6 87.1L585.2 90.3L585.4 90.9L586 91.4L587 91.7L591.7 91.9L617.3 91.9" stroke="#e0607a"/>
<path d="M459.5 78.9L473.2 78.7L475.8 78.5L477.4 78L477.9 77.7L478.5 77.3L479 76.5L479.3 75.9L479.8 74.1L480.6 69.5L480.8 68.6L481.1 69L482.2 74.7L482.4 75.6L482.9 76.8L483.7 77.7L484.5 78.1L485.8 78.5L487.4 78.6L492.7 78.8L505.6 78.9L574.4 78.9L583.8 78.8L585.4 78.5L586 78.2L586.2 77.8L586.5 77.1L586.7 75.7L587 73.4L587.3 72.5L587.8 76.5L588.1 77.5L588.3 78L588.6 78.3L589.4 78.6L590.7 78.8L593.6 78.9L617.3 78.9" stroke="#c8689a"/>
<path d="M459.5 66.1L473.2 65.9L475.8 65.7L477.4 65.2L477.9 64.9L478.5 64.5L479 63.7L479.3 63.1L479.8 61.3L480.6 56.7L480.8 55.8L481.1 56.2L482.2 61.9L482.4 62.8L482.9 64L483.7 64.9L484.5 65.3L485.8 65.7L487.4 65.8L492.4 66L504.3 66.1L575.9 66.1L586 66L587.5 65.8L588.1 65.6L588.3 65.4L588.6 64.9L588.8 64.1L589.4 61.1L589.9 63.9L590.2 64.8L590.4 65.3L590.7 65.6L591.5 65.9L592.8 66L595.4 66.1L617.3 66.1" stroke="#b070a8"/>
<path d="M459.5 53.8L473.2 53.6L475.8 53.4L477.4 52.9L477.9 52.6L478.5 52.2L479 51.4L479.3 50.8L479.8 49L480.6 44.4L480.8 43.5L481.1 43.9L482.2 49.6L482.4 50.5L482.9 51.7L483.7 52.6L484.5 53L485.8 53.4L487.4 53.5L493 53.7L506.4 53.8L577.3 53.8L587 53.7L588.6 53.4L589.1 53.1L589.4 52.8L589.6 52.2L589.9 51.1L590.4 46.5L590.7 47.5L591 50.1L591.2 51.7L591.5 52.5L592 53.2L592.8 53.5L594.1 53.7L597 53.8L617.3 53.8" stroke="#a070b0"/>
<path d="M459.5 40.9L473.2 40.7L475.8 40.5L477.4 40L477.9 39.7L478.5 39.3L479 38.5L479.3 37.9L479.8 36.1L480.6 31.5L480.8 30.6L481.1 31L482.2 36.7L482.4 37.6L482.9 38.8L483.7 39.7L484.5 40.1L485.8 40.5L487.4 40.6L492.2 40.8L503 40.9L587.5 40.8L589.1 40.7L589.9 40.5L590.2 40.2L590.4 39.7L591 37.9L591.2 38.5L591.5 39.5L591.7 40.1L592.3 40.6L593.1 40.8L597 40.9L617.3 40.9" stroke="#8c74bc"/>
<path d="M459.5 29.2L473.2 29L475.8 28.8L477.4 28.3L477.9 28L478.5 27.6L479 26.8L479.3 26.2L479.8 24.4L480.6 19.8L480.8 18.9L481.1 19.3L482.2 25L482.4 25.9L482.9 27.1L483.7 28L484.5 28.4L485.8 28.8L487.4 28.9L492.7 29.1L505.3 29.2L577.8 29.2L587.8 29.1L589.4 28.9L589.9 28.6L590.2 28.3L590.4 27.8L590.7 26.9L591.2 22.9L591.5 23.6L591.7 25.9L592 27.3L592.3 28.1L592.8 28.7L593.6 29L594.9 29.1L597.5 29.2L617.3 29.2" stroke="#7476c4"/>
<path d="M459.5 16.7L473.2 16.5L475.8 16.3L477.4 15.8L477.9 15.5L478.5 15.1L479 14.3L479.3 13.7L479.8 11.9L480.6 7.3L480.8 6.4L481.1 6.8L482.2 12.5L482.4 13.4L482.9 14.6L483.7 15.5L484.5 15.9L485.8 16.3L487.4 16.4L492.7 16.6L504.8 16.7L578.6 16.7L588.6 16.6L590.2 16.4L590.7 16.1L591 15.8L591.2 15.3L591.5 14.3L592 11.2L592.5 14.4L592.8 15.4L593.1 15.9L593.3 16.1L594.1 16.5L595.4 16.6L598.1 16.7L617.3 16.7" stroke="#6878c8"/>
</g>
<rect x="459.5" y="6.2" width="157.8" height="154.8" fill="none" stroke="#555" stroke-width="1"/>
<line x1="465.95" y1="161" x2="465.95" y2="162.3" stroke="#555" stroke-width="0.8"/>
<line x1="480.6" y1="161" x2="480.6" y2="163.2" stroke="#555" stroke-width="0.8"/>
<text x="480.6" y="170.3" font-size="7.2" text-anchor="middle" fill="#000" stroke="#000" stroke-width="0.15">7.4</text>
<line x1="495.25" y1="161" x2="495.25" y2="162.3" stroke="#555" stroke-width="0.8"/>
<line x1="509.9" y1="161" x2="509.9" y2="163.2" stroke="#555" stroke-width="0.8"/>
<text x="509.9" y="170.3" font-size="7.2" text-anchor="middle" fill="#000" stroke="#000" stroke-width="0.15">7.2</text>
<line x1="524.55" y1="161" x2="524.55" y2="162.3" stroke="#555" stroke-width="0.8"/>
<line x1="539.2" y1="161" x2="539.2" y2="163.2" stroke="#555" stroke-width="0.8"/>
<text x="539.2" y="170.3" font-size="7.2" text-anchor="middle" fill="#000" stroke="#000" stroke-width="0.15">7.0</text>
<line x1="553.85" y1="161" x2="553.85" y2="162.3" stroke="#555" stroke-width="0.8"/>
<line x1="568.5" y1="161" x2="568.5" y2="163.2" stroke="#555" stroke-width="0.8"/>
<text x="568.5" y="170.3" font-size="7.2" text-anchor="middle" fill="#000" stroke="#000" stroke-width="0.15">6.8</text>
<line x1="583.15" y1="161" x2="583.15" y2="162.3" stroke="#555" stroke-width="0.8"/>
<line x1="597.8" y1="161" x2="597.8" y2="163.2" stroke="#555" stroke-width="0.8"/>
<text x="597.8" y="170.3" font-size="7.2" text-anchor="middle" fill="#000" stroke="#000" stroke-width="0.15">6.6</text>
<line x1="612.45" y1="161" x2="612.45" y2="162.3" stroke="#555" stroke-width="0.8"/>
<text x="616" y="154.3" font-size="4.9" text-anchor="end" fill="#222" stroke="#222" stroke-width="0.04">0 equiv</text>
<text x="616" y="144.3" font-size="4.9" text-anchor="end" fill="#222" stroke="#222" stroke-width="0.04">1 equiv</text>
<text x="616" y="134" font-size="4.9" text-anchor="end" fill="#222" stroke="#222" stroke-width="0.04">2 equiv</text>
<text x="616" y="122.5" font-size="4.9" text-anchor="end" fill="#222" stroke="#222" stroke-width="0.04">3 equiv</text>
<text x="616" y="111.6" font-size="4.9" text-anchor="end" fill="#222" stroke="#222" stroke-width="0.04">4 equiv</text>
<text x="616" y="99.3" font-size="4.9" text-anchor="end" fill="#222" stroke="#222" stroke-width="0.04">5 equiv</text>
<text x="616" y="89.3" font-size="4.9" text-anchor="end" fill="#222" stroke="#222" stroke-width="0.04">6 equiv</text>
<text x="616" y="76.3" font-size="4.9" text-anchor="end" fill="#222" stroke="#222" stroke-width="0.04">7 equiv</text>
<text x="616" y="63.5" font-size="4.9" text-anchor="end" fill="#222" stroke="#222" stroke-width="0.04">8 equiv</text>
<text x="616" y="51.2" font-size="4.9" text-anchor="end" fill="#222" stroke="#222" stroke-width="0.04">9 equiv</text>
<text x="616" y="38.3" font-size="4.9" text-anchor="end" fill="#222" stroke="#222" stroke-width="0.04">10 equiv</text>
<text x="616" y="26.6" font-size="4.9" text-anchor="end" fill="#222" stroke="#222" stroke-width="0.04">11 equiv</text>
<text x="616" y="14.1" font-size="4.9" text-anchor="end" fill="#222" stroke="#222" stroke-width="0.04">12 equiv</text>
<text x="537.8" y="179.6" font-size="8.6" text-anchor="middle" fill="#000" stroke="#000" stroke-width="0.18"><tspan font-style="italic">δ</tspan> / ppm</text>
<text x="429" y="8.6" font-size="10.8" text-anchor="start" fill="#000" stroke="#000" stroke-width="0.4">(d)</text>
<defs><linearGradient id="lg_e" gradientUnits="userSpaceOnUse" x1="35" y1="0" x2="182" y2="0"><stop offset="0" stop-color="#f43848"/><stop offset="0.55" stop-color="#f04050"/><stop offset="0.68" stop-color="#b86088"/><stop offset="0.8" stop-color="#9066a8"/><stop offset="0.92" stop-color="#5a64c4"/><stop offset="1" stop-color="#5064c8"/></linearGradient></defs>
<path d="M35.6 323.4L40.7 324L44.4 324.2L47.4 323.9L48.8 323.7L50.3 323.3L53.2 322.3L54.7 321.6L56.9 320.4L58.4 319.5L60.6 318L64.3 315.1L67.9 311.7L71.6 307.9L75.3 303.8L79 299.3L81.9 295.5L84.9 291.3L93.7 277.9L96.6 273.7L100.3 268.8L104 264.4L106.2 262L109.1 259L114.3 254.1L117.2 251.5L120.1 249.1L126 244.6L131.2 241L136.3 237.8L141.5 234.8L147.3 231.8L151.7 229.7L156.9 227.5L172.3 221.3L181.9 217.3" fill="none" stroke="url(#lg_e)" stroke-width="0.9"/>
<polygon points="38.89,325.34 35.6,327.24 32.31,325.34 32.31,321.54 35.6,319.64 38.89,321.54" fill="#fde2e2" stroke="#f43848" stroke-width="1.1"/>
<polygon points="51.08,325.77 47.79,327.67 44.5,325.77 44.5,321.97 47.79,320.07 51.08,321.97" fill="#fde2e2" stroke="#f43848" stroke-width="1.1"/>
<polygon points="63.27,320.35 59.98,322.25 56.69,320.35 56.69,316.55 59.98,314.65 63.27,316.55" fill="#fde2e2" stroke="#f43848" stroke-width="1.1"/>
<polygon points="75.46,309.21 72.17,311.11 68.88,309.21 68.88,305.41 72.17,303.51 75.46,305.41" fill="#fde2e2" stroke="#f43848" stroke-width="1.1"/>
<polygon points="87.65,293.93 84.36,295.83 81.07,293.93 81.07,290.13 84.36,288.23 87.65,290.13" fill="#fde2e2" stroke="#f43848" stroke-width="1.1"/>
<polygon points="99.84,275.65 96.55,277.55 93.26,275.65 93.26,271.85 96.55,269.95 99.84,271.85" fill="#fde2e2" stroke="#f43848" stroke-width="1.1"/>
<polygon points="112.03,261.23 108.74,263.13 105.45,261.23 105.45,257.43 108.74,255.53 112.03,257.43" fill="#fde2e2" stroke="#f43848" stroke-width="1.1"/>
<polygon points="124.22,250.37 120.93,252.27 117.64,250.37 117.64,246.57 120.93,244.67 124.22,246.57" fill="#fbe0e4" stroke="#dc4c64" stroke-width="1.1"/>
<polygon points="136.41,241.66 133.12,243.56 129.83,241.66 129.83,237.86 133.12,235.96 136.41,237.86" fill="#f0dce8" stroke="#b06890" stroke-width="1.1"/>
<polygon points="148.6,234.67 145.31,236.57 142.02,234.67 142.02,230.87 145.31,228.97 148.6,230.87" fill="#e6daee" stroke="#9066a8" stroke-width="1.1"/>
<polygon points="160.79,229.1 157.5,231 154.21,229.1 154.21,225.3 157.5,223.4 160.79,225.3" fill="#e2daf0" stroke="#8466b0" stroke-width="1.1"/>
<polygon points="172.98,224.24 169.69,226.14 166.4,224.24 166.4,220.44 169.69,218.54 172.98,220.44" fill="#dadef4" stroke="#5a64c4" stroke-width="1.1"/>
<polygon points="185.17,219.24 181.88,221.14 178.59,219.24 178.59,215.44 181.88,213.54 185.17,215.44" fill="#d6dcf4" stroke="#5064c8" stroke-width="1.1"/>
<path d="M35.6 323.4L40.7 324L44.4 324.2L47.4 323.9L48.8 323.7L50.3 323.3L53.2 322.3L54.7 321.6L56.9 320.4L58.4 319.5L60.6 318L64.3 315.1L67.9 311.7L71.6 307.9L75.3 303.8L79 299.3L81.9 295.5L84.9 291.3L93.7 277.9L96.6 273.7L100.3 268.8L104 264.4L106.2 262L109.1 259L114.3 254.1L117.2 251.5L120.1 249.1L126 244.6L131.2 241L136.3 237.8L141.5 234.8L147.3 231.8L151.7 229.7L156.9 227.5L172.3 221.3L181.9 217.3" fill="none" stroke="url(#lg_e)" stroke-width="0.8" opacity="0.75"/>
<rect x="29.2" y="206.4" width="158.9" height="127.6" fill="none" stroke="#555" stroke-width="1"/>
<line x1="35.6" y1="334" x2="35.6" y2="331.5" stroke="#555" stroke-width="0.8"/>
<text x="35.6" y="342.8" font-size="7.2" text-anchor="middle" fill="#000" stroke="#000" stroke-width="0.15">0</text>
<line x1="47.79" y1="334" x2="47.79" y2="332.5" stroke="#555" stroke-width="0.8"/>
<line x1="59.98" y1="334" x2="59.98" y2="331.5" stroke="#555" stroke-width="0.8"/>
<text x="59.98" y="342.8" font-size="7.2" text-anchor="middle" fill="#000" stroke="#000" stroke-width="0.15">2</text>
<line x1="72.17" y1="334" x2="72.17" y2="332.5" stroke="#555" stroke-width="0.8"/>
<line x1="84.36" y1="334" x2="84.36" y2="331.5" stroke="#555" stroke-width="0.8"/>
<text x="84.36" y="342.8" font-size="7.2" text-anchor="middle" fill="#000" stroke="#000" stroke-width="0.15">4</text>
<line x1="96.55" y1="334" x2="96.55" y2="332.5" stroke="#555" stroke-width="0.8"/>
<line x1="108.74" y1="334" x2="108.74" y2="331.5" stroke="#555" stroke-width="0.8"/>
<text x="108.74" y="342.8" font-size="7.2" text-anchor="middle" fill="#000" stroke="#000" stroke-width="0.15">6</text>
<line x1="120.93" y1="334" x2="120.93" y2="332.5" stroke="#555" stroke-width="0.8"/>
<line x1="133.12" y1="334" x2="133.12" y2="331.5" stroke="#555" stroke-width="0.8"/>
<text x="133.12" y="342.8" font-size="7.2" text-anchor="middle" fill="#000" stroke="#000" stroke-width="0.15">8</text>
<line x1="145.31" y1="334" x2="145.31" y2="332.5" stroke="#555" stroke-width="0.8"/>
<line x1="157.5" y1="334" x2="157.5" y2="331.5" stroke="#555" stroke-width="0.8"/>
<text x="157.5" y="342.8" font-size="7.2" text-anchor="middle" fill="#000" stroke="#000" stroke-width="0.15">10</text>
<line x1="169.69" y1="334" x2="169.69" y2="332.5" stroke="#555" stroke-width="0.8"/>
<line x1="181.88" y1="334" x2="181.88" y2="331.5" stroke="#555" stroke-width="0.8"/>
<text x="181.88" y="342.8" font-size="7.2" text-anchor="middle" fill="#000" stroke="#000" stroke-width="0.15">12</text>
<line x1="29.2" y1="327.3" x2="30.7" y2="327.3" stroke="#555" stroke-width="0.8"/>
<line x1="29.2" y1="313.02" x2="31.7" y2="313.02" stroke="#555" stroke-width="0.8"/>
<text x="26.3" y="315.52" font-size="7.2" text-anchor="end" fill="#000" stroke="#000" stroke-width="0.15">16</text>
<line x1="29.2" y1="298.74" x2="30.7" y2="298.74" stroke="#555" stroke-width="0.8"/>
<line x1="29.2" y1="284.46" x2="31.7" y2="284.46" stroke="#555" stroke-width="0.8"/>
<text x="26.3" y="286.96" font-size="7.2" text-anchor="end" fill="#000" stroke="#000" stroke-width="0.15">18</text>
<line x1="29.2" y1="270.18" x2="30.7" y2="270.18" stroke="#555" stroke-width="0.8"/>
<line x1="29.2" y1="255.9" x2="31.7" y2="255.9" stroke="#555" stroke-width="0.8"/>
<text x="26.3" y="258.4" font-size="7.2" text-anchor="end" fill="#000" stroke="#000" stroke-width="0.15">20</text>
<line x1="29.2" y1="241.62" x2="30.7" y2="241.62" stroke="#555" stroke-width="0.8"/>
<line x1="29.2" y1="227.34" x2="31.7" y2="227.34" stroke="#555" stroke-width="0.8"/>
<text x="26.3" y="229.84" font-size="7.2" text-anchor="end" fill="#000" stroke="#000" stroke-width="0.15">22</text>
<line x1="29.2" y1="213.06" x2="30.7" y2="213.06" stroke="#555" stroke-width="0.8"/>
<text x="108.5" y="352.4" font-size="8.35" text-anchor="middle" fill="#000" font-style="italic" stroke="#000" stroke-width="0.18">Base equivalent</text>
<text x="15.6" y="269.8" font-size="8.6" text-anchor="middle" fill="#000" stroke="#000" stroke-width="0.18" transform="rotate(-90 15.6 269.8)"><tspan font-style="italic">χ</tspan><tspan font-size="5" dy="1.5">M</tspan><tspan dy="-1.5" font-style="italic">T</tspan> / cm<tspan font-size="5" dy="-2.5">3</tspan><tspan dy="2.5"> mol</tspan><tspan font-size="5" dy="-2.5">-1</tspan><tspan dy="2.5"> K</tspan></text>
<text x="0" y="209.4" font-size="10.8" text-anchor="start" fill="#000" stroke="#000" stroke-width="0.4">(e)</text>
<clipPath id="cf"><rect x="244.4" y="206.5" width="157.29999999999998" height="127.10000000000002"/></clipPath>
<g clip-path="url(#cf)" fill="none" stroke-width="1">
<path d="M244.4 248.4L258 248.1L262.6 247.9L266.1 247.6L268.9 247.2L271.2 246.7L273.1 246L274.7 245L276.1 243.8L277.1 242.4L278 240.8L278.9 238.6L279.6 236.3L280.3 233.4L282.5 221.5L283.1 220L283.2 219.8L283.4 219.7L283.6 219.8L283.8 220.1L284.3 221.7L286.6 233.6L287.4 237.1L288.3 239.7L289.4 241.9L289.9 242.8L290.6 243.7L291.3 244.4L292.2 245.1L293 245.7L293.9 246.1L295.1 246.6L296.4 247L299.5 247.6L303.7 248L309.5 248.3L321.9 248.6L336.8 248.6L342 248.5L343.6 248.3L344.7 248L345.5 247.5L345.9 247.1L346.2 246.6L346.8 245.1L347.1 242.8L347.5 237.9L348 219.4L348.2 217.8L348.7 234.5L348.9 237L349 238.1L349.2 238L349.4 236.9L349.7 230.1L350.3 209.8L350.4 212.3L351 234.2L351.3 240.7L351.7 243.8L352 245.4L352.5 246.7L353.2 247.5L354.1 248L355.5 248.4L357.4 248.6L360.2 248.7L371.4 248.9L401.7 249" stroke="#f0383c"/>
<path d="M244.4 288.9L259.4 288.6L264.2 288.4L267.8 288.2L270.6 287.8L272.9 287.2L274.7 286.5L276.1 285.6L277.3 284.4L278.3 282.7L279.2 280.7L279.9 278.4L280.6 275.3L281.1 272.2L282.9 259.4L283.2 257.8L283.4 257.4L283.6 257.2L283.8 257.3L283.9 257.7L284.3 259.3L285.9 270.9L286.6 275.2L287.3 278.4L288 280.7L288.5 282L289 283L289.7 284.1L290.4 285L291.3 285.7L292.2 286.3L293.2 286.8L294.3 287.2L295.7 287.6L297.2 287.9L301.1 288.3L306.7 288.6L314.7 288.8L336.6 288.9L370.2 288.9L377.6 288.8L379.5 288.6L380.7 288.4L381.4 288.2L381.9 287.9L382.5 287.3L382.8 286.8L383.3 285.1L383.7 282.7L384 277.8L384.2 273.4L384.7 252.1L384.9 252.8L385.3 268.3L385.6 278.4L385.8 281.2L386.1 284.3L386.5 285.9L386.8 286.8L387.4 287.6L387.9 288L388.8 288.4L389.8 288.6L393.5 288.9L401.7 289" stroke="#4a5cc0"/>
<path d="M244.4 328.9L265.6 328.8L274 328.7L276.4 328.5L278 328.2L279.2 327.8L280.1 327.2L280.8 326.3L281.3 325.1L281.8 323L282.2 320.4L282.7 312.7L283.4 292.5L283.6 290.4L283.8 292.3L284.5 312.5L284.8 318.3L285.2 321.7L285.7 324.5L286 325.6L286.4 326.3L286.7 326.8L287.3 327.4L288 327.8L288.7 328.1L290.4 328.4L293 328.7L297.1 328.8L303.9 328.8L347.3 328.9L351.7 328.7L352.9 328.6L353.6 328.4L354.3 327.9L354.6 327.4L354.8 327L355.2 325.3L355.3 323.6L355.5 320.5L355.9 305.2L356 300.8L356.4 317.2L356.6 321.9L356.7 324.3L356.9 325.8L357.3 327.2L357.6 327.8L358.1 328.3L358.8 328.5L359.7 328.7L363.4 328.8L401.7 328.9" stroke="#f0383c"/>
</g>
<defs><linearGradient id="fa1" gradientUnits="userSpaceOnUse" x1="0" y1="278" x2="0" y2="253"><stop offset="0" stop-color="#6a6ac8"/><stop offset="1" stop-color="#f03838"/></linearGradient><linearGradient id="fa2" gradientUnits="userSpaceOnUse" x1="0" y1="324.5" x2="0" y2="295"><stop offset="0" stop-color="#f03838"/><stop offset="1" stop-color="#6a6ac8"/></linearGradient></defs>
<line x1="319.8" y1="278" x2="319.8" y2="256" stroke="url(#fa1)" stroke-width="1.1"/>
<path d="M317.7 256.8 L319.8 252.6 L321.9 256.8 Z" fill="#f03838"/>
<line x1="319.8" y1="324.5" x2="319.8" y2="298" stroke="url(#fa2)" stroke-width="1.1"/>
<path d="M317.7 298.8 L319.8 294.6 L321.9 298.8 Z" fill="#6a6ac8"/>
<text x="319.1" y="245" font-size="7.9" text-anchor="middle" fill="#f03838" stroke="#f03838" stroke-width="0.17">+Acid</text>
<text x="319.9" y="286.1" font-size="7.9" text-anchor="middle" fill="#5a64c4" stroke="#5a64c4" stroke-width="0.17">+Base</text>
<rect x="244.4" y="206.5" width="157.3" height="127.1" fill="none" stroke="#555" stroke-width="1"/>
<line x1="251.19" y1="333.6" x2="251.19" y2="332.1" stroke="#555" stroke-width="0.8"/>
<line x1="270.8" y1="333.6" x2="270.8" y2="331.1" stroke="#555" stroke-width="0.8"/>
<text x="270.8" y="342" font-size="7.2" text-anchor="middle" fill="#000" stroke="#000" stroke-width="0.15">7.5</text>
<line x1="290.4" y1="333.6" x2="290.4" y2="332.1" stroke="#555" stroke-width="0.8"/>
<line x1="310.01" y1="333.6" x2="310.01" y2="331.1" stroke="#555" stroke-width="0.8"/>
<text x="310.01" y="342" font-size="7.2" text-anchor="middle" fill="#000" stroke="#000" stroke-width="0.15">7.2</text>
<line x1="329.61" y1="333.6" x2="329.61" y2="332.1" stroke="#555" stroke-width="0.8"/>
<line x1="349.22" y1="333.6" x2="349.22" y2="331.1" stroke="#555" stroke-width="0.8"/>
<text x="349.22" y="342" font-size="7.2" text-anchor="middle" fill="#000" stroke="#000" stroke-width="0.15">6.9</text>
<line x1="368.82" y1="333.6" x2="368.82" y2="332.1" stroke="#555" stroke-width="0.8"/>
<line x1="388.43" y1="333.6" x2="388.43" y2="331.1" stroke="#555" stroke-width="0.8"/>
<text x="388.43" y="342" font-size="7.2" text-anchor="middle" fill="#000" stroke="#000" stroke-width="0.15">6.6</text>
<text x="322.9" y="352.2" font-size="8.6" text-anchor="middle" fill="#000" stroke="#000" stroke-width="0.18"><tspan font-style="italic">δ</tspan> / ppm</text>
<text x="214.3" y="209.4" font-size="10.8" text-anchor="start" fill="#000" stroke="#000" stroke-width="0.4">(f)</text>
<defs><linearGradient id="gg0" x1="0" y1="0" x2="0" y2="1"><stop offset="0" stop-color="#fefbfc"/><stop offset="0.25" stop-color="#fcf1f3"/><stop offset="0.5" stop-color="#f9dee2"/><stop offset="0.75" stop-color="#f4c5cb"/><stop offset="1" stop-color="#eea6b0"/></linearGradient><linearGradient id="gg1" x1="0" y1="0" x2="0" y2="1"><stop offset="0" stop-color="#fefbfc"/><stop offset="0.25" stop-color="#fcf1f3"/><stop offset="0.5" stop-color="#f9dee2"/><stop offset="0.75" stop-color="#f4c5cb"/><stop offset="1" stop-color="#eea6b0"/></linearGradient><linearGradient id="gg2" x1="0" y1="0" x2="0" y2="1"><stop offset="0" stop-color="#fefbfc"/><stop offset="0.25" stop-color="#fcf1f3"/><stop offset="0.5" stop-color="#f9dee2"/><stop offset="0.75" stop-color="#f4c5cb"/><stop offset="1" stop-color="#eea6b0"/></linearGradient><linearGradient id="gg3" x1="0" y1="0" x2="0" y2="1"><stop offset="0" stop-color="#fefbfc"/><stop offset="0.25" stop-color="#fcf1f3"/><stop offset="0.5" stop-color="#f9dee2"/><stop offset="0.75" stop-color="#f4c5cb"/><stop offset="1" stop-color="#eea6b0"/></linearGradient><linearGradient id="gg4" x1="0" y1="0" x2="0" y2="1"><stop offset="0" stop-color="#fefbfc"/><stop offset="0.25" stop-color="#fcf1f3"/><stop offset="0.5" stop-color="#f8dee2"/><stop offset="0.75" stop-color="#f3c5cc"/><stop offset="1" stop-color="#eca6b1"/></linearGradient><linearGradient id="gg5" x1="0" y1="0" x2="0" y2="1"><stop offset="0" stop-color="#fefbfc"/><stop offset="0.25" stop-color="#fcf2f3"/><stop offset="0.5" stop-color="#f7dee3"/><stop offset="0.75" stop-color="#f1c5cd"/><stop offset="1" stop-color="#e9a6b2"/></linearGradient><linearGradient id="gg6" x1="0" y1="0" x2="0" y2="1"><stop offset="0" stop-color="#fefbfc"/><stop offset="0.25" stop-color="#fbf2f4"/><stop offset="0.5" stop-color="#f5dee4"/><stop offset="0.75" stop-color="#eec5ce"/><stop offset="1" stop-color="#e5a6b5"/></linearGradient><linearGradient id="gg7" x1="0" y1="0" x2="0" y2="1"><stop offset="0" stop-color="#fefbfc"/><stop offset="0.25" stop-color="#faf2f4"/><stop offset="0.5" stop-color="#f3dee5"/><stop offset="0.75" stop-color="#eac5d0"/><stop offset="1" stop-color="#dfa7b7"/></linearGradient><linearGradient id="gg8" x1="0" y1="0" x2="0" y2="1"><stop offset="0" stop-color="#fdfbfc"/><stop offset="0.25" stop-color="#f9f2f5"/><stop offset="0.5" stop-color="#f1dfe6"/><stop offset="0.75" stop-color="#e6c5d2"/><stop offset="1" stop-color="#d9a7bb"/></linearGradient><linearGradient id="gg9" x1="0" y1="0" x2="0" y2="1"><stop offset="0" stop-color="#fdfbfc"/><stop offset="0.25" stop-color="#f8f2f5"/><stop offset="0.5" stop-color="#eedfe7"/><stop offset="0.75" stop-color="#e1c5d5"/><stop offset="1" stop-color="#d2a7be"/></linearGradient><linearGradient id="gg10" x1="0" y1="0" x2="0" y2="1"><stop offset="0" stop-color="#fdfbfd"/><stop offset="0.25" stop-color="#f7f2f6"/><stop offset="0.5" stop-color="#ecdfe9"/><stop offset="0.75" stop-color="#dcc6d7"/><stop offset="1" stop-color="#caa7c2"/></linearGradient><linearGradient id="gg11" x1="0" y1="0" x2="0" y2="1"><stop offset="0" stop-color="#fdfcfd"/><stop offset="0.25" stop-color="#f6f2f6"/><stop offset="0.5" stop-color="#e9dfea"/><stop offset="0.75" stop-color="#d7c6d9"/><stop offset="1" stop-color="#c3a8c6"/></linearGradient><linearGradient id="gg12" x1="0" y1="0" x2="0" y2="1"><stop offset="0" stop-color="#fcfcfd"/><stop offset="0.25" stop-color="#f5f2f7"/><stop offset="0.5" stop-color="#e6dfeb"/><stop offset="0.75" stop-color="#d3c6dc"/><stop offset="1" stop-color="#bba8c9"/></linearGradient><linearGradient id="gg13" x1="0" y1="0" x2="0" y2="1"><stop offset="0" stop-color="#fcfcfd"/><stop offset="0.25" stop-color="#f4f2f7"/><stop offset="0.5" stop-color="#e3dfed"/><stop offset="0.75" stop-color="#cec6de"/><stop offset="1" stop-color="#b4a8cd"/></linearGradient><linearGradient id="gg14" x1="0" y1="0" x2="0" y2="1"><stop offset="0" stop-color="#fcfcfd"/><stop offset="0.25" stop-color="#f3f2f8"/><stop offset="0.5" stop-color="#e1dfee"/><stop offset="0.75" stop-color="#cac6e0"/><stop offset="1" stop-color="#ada8d0"/></linearGradient><linearGradient id="gg15" x1="0" y1="0" x2="0" y2="1"><stop offset="0" stop-color="#fcfcfd"/><stop offset="0.25" stop-color="#f2f2f8"/><stop offset="0.5" stop-color="#dfdfef"/><stop offset="0.75" stop-color="#c6c6e2"/><stop offset="1" stop-color="#a8a9d3"/></linearGradient><linearGradient id="gg16" x1="0" y1="0" x2="0" y2="1"><stop offset="0" stop-color="#fbfcfd"/><stop offset="0.25" stop-color="#f1f2f9"/><stop offset="0.5" stop-color="#dddff0"/><stop offset="0.75" stop-color="#c3c7e4"/><stop offset="1" stop-color="#a3a9d5"/></linearGradient><linearGradient id="gg17" x1="0" y1="0" x2="0" y2="1"><stop offset="0" stop-color="#fbfcfd"/><stop offset="0.25" stop-color="#f1f2f9"/><stop offset="0.5" stop-color="#dcdff0"/><stop offset="0.75" stop-color="#c1c7e5"/><stop offset="1" stop-color="#a0a9d7"/></linearGradient><linearGradient id="gg18" x1="0" y1="0" x2="0" y2="1"><stop offset="0" stop-color="#fbfcfd"/><stop offset="0.25" stop-color="#f0f2f9"/><stop offset="0.5" stop-color="#dbdff1"/><stop offset="0.75" stop-color="#c0c7e5"/><stop offset="1" stop-color="#9ea9d8"/></linearGradient><linearGradient id="gg19" x1="0" y1="0" x2="0" y2="1"><stop offset="0" stop-color="#fbfcfd"/><stop offset="0.25" stop-color="#f0f2f9"/><stop offset="0.5" stop-color="#dbdff1"/><stop offset="0.75" stop-color="#c0c7e5"/><stop offset="1" stop-color="#9ea9d8"/></linearGradient><linearGradient id="gg20" x1="0" y1="0" x2="0" y2="1"><stop offset="0" stop-color="#fbfcfd"/><stop offset="0.25" stop-color="#f0f2f9"/><stop offset="0.5" stop-color="#dbdff1"/><stop offset="0.75" stop-color="#c0c7e5"/><stop offset="1" stop-color="#9ea9d8"/></linearGradient><linearGradient id="gg21" x1="0" y1="0" x2="0" y2="1"><stop offset="0" stop-color="#fbfcfd"/><stop offset="0.25" stop-color="#f0f2f9"/><stop offset="0.5" stop-color="#dbdff1"/><stop offset="0.75" stop-color="#c0c7e5"/><stop offset="1" stop-color="#9ea9d8"/></linearGradient><linearGradient id="gg22" x1="0" y1="0" x2="0" y2="1"><stop offset="0" stop-color="#fbfcfd"/><stop offset="0.25" stop-color="#f0f2f9"/><stop offset="0.5" stop-color="#dbdff1"/><stop offset="0.75" stop-color="#c0c7e5"/><stop offset="1" stop-color="#9ea9d8"/></linearGradient><linearGradient id="gg23" x1="0" y1="0" x2="0" y2="1"><stop offset="0" stop-color="#fbfcfd"/><stop offset="0.25" stop-color="#f0f2f9"/><stop offset="0.5" stop-color="#dbdff1"/><stop offset="0.75" stop-color="#c0c7e5"/><stop offset="1" stop-color="#9ea9d8"/></linearGradient><linearGradient id="gg24" x1="0" y1="0" x2="0" y2="1"><stop offset="0" stop-color="#fbfcfd"/><stop offset="0.25" stop-color="#f0f2f9"/><stop offset="0.5" stop-color="#dbdff1"/><stop offset="0.75" stop-color="#c0c7e5"/><stop offset="1" stop-color="#9ea9d8"/></linearGradient><linearGradient id="gg25" x1="0" y1="0" x2="0" y2="1"><stop offset="0" stop-color="#fbfcfd"/><stop offset="0.25" stop-color="#f0f2f9"/><stop offset="0.5" stop-color="#dbdff1"/><stop offset="0.75" stop-color="#c0c7e5"/><stop offset="1" stop-color="#9ea9d8"/></linearGradient><linearGradient id="gg26" x1="0" y1="0" x2="0" y2="1"><stop offset="0" stop-color="#fbfcfd"/><stop offset="0.25" stop-color="#f0f2f9"/><stop offset="0.5" stop-color="#dbdff1"/><stop offset="0.75" stop-color="#c0c7e5"/><stop offset="1" stop-color="#9ea9d8"/></linearGradient><linearGradient id="gg27" x1="0" y1="0" x2="0" y2="1"><stop offset="0" stop-color="#fbfcfd"/><stop offset="0.25" stop-color="#f0f2f9"/><stop offset="0.5" stop-color="#dbdff1"/><stop offset="0.75" stop-color="#c0c7e5"/><stop offset="1" stop-color="#9ea9d8"/></linearGradient><linearGradient id="gg28" x1="0" y1="0" x2="0" y2="1"><stop offset="0" stop-color="#fbfcfd"/><stop offset="0.25" stop-color="#f0f2f9"/><stop offset="0.5" stop-color="#dbdff1"/><stop offset="0.75" stop-color="#c0c7e5"/><stop offset="1" stop-color="#9ea9d8"/></linearGradient><linearGradient id="gg29" x1="0" y1="0" x2="0" y2="1"><stop offset="0" stop-color="#fbfcfd"/><stop offset="0.25" stop-color="#f0f2f9"/><stop offset="0.5" stop-color="#dbdff1"/><stop offset="0.75" stop-color="#c0c7e5"/><stop offset="1" stop-color="#9ea9d8"/></linearGradient><linearGradient id="gg30" x1="0" y1="0" x2="0" y2="1"><stop offset="0" stop-color="#fbfcfd"/><stop offset="0.25" stop-color="#f0f2f9"/><stop offset="0.5" stop-color="#dbdff1"/><stop offset="0.75" stop-color="#c0c7e5"/><stop offset="1" stop-color="#9ea9d8"/></linearGradient><linearGradient id="gg31" x1="0" y1="0" x2="0" y2="1"><stop offset="0" stop-color="#fbfcfd"/><stop offset="0.25" stop-color="#f0f2f9"/><stop offset="0.5" stop-color="#dbdff1"/><stop offset="0.75" stop-color="#c0c7e5"/><stop offset="1" stop-color="#9ea9d8"/></linearGradient><linearGradient id="gg32" x1="0" y1="0" x2="0" y2="1"><stop offset="0" stop-color="#fbfcfd"/><stop offset="0.25" stop-color="#f0f2f9"/><stop offset="0.5" stop-color="#dbdff1"/><stop offset="0.75" stop-color="#c0c7e5"/><stop offset="1" stop-color="#9ea9d8"/></linearGradient><linearGradient id="gg33" x1="0" y1="0" x2="0" y2="1"><stop offset="0" stop-color="#fbfcfd"/><stop offset="0.25" stop-color="#f0f2f9"/><stop offset="0.5" stop-color="#dbdff1"/><stop offset="0.75" stop-color="#c0c7e5"/><stop offset="1" stop-color="#9ea9d8"/></linearGradient><linearGradient id="gg34" x1="0" y1="0" x2="0" y2="1"><stop offset="0" stop-color="#fbfcfd"/><stop offset="0.25" stop-color="#f0f2f9"/><stop offset="0.5" stop-color="#dcdff1"/><stop offset="0.75" stop-color="#c0c7e5"/><stop offset="1" stop-color="#9fa9d8"/></linearGradient><linearGradient id="gg35" x1="0" y1="0" x2="0" y2="1"><stop offset="0" stop-color="#fbfcfd"/><stop offset="0.25" stop-color="#f1f2f9"/><stop offset="0.5" stop-color="#dcdff0"/><stop offset="0.75" stop-color="#c1c7e5"/><stop offset="1" stop-color="#a1a9d7"/></linearGradient><linearGradient id="gg36" x1="0" y1="0" x2="0" y2="1"><stop offset="0" stop-color="#fbfcfd"/><stop offset="0.25" stop-color="#f1f2f9"/><stop offset="0.5" stop-color="#dedfef"/><stop offset="0.75" stop-color="#c4c7e3"/><stop offset="1" stop-color="#a5a9d5"/></linearGradient><linearGradient id="gg37" x1="0" y1="0" x2="0" y2="1"><stop offset="0" stop-color="#fcfcfd"/><stop offset="0.25" stop-color="#f2f2f8"/><stop offset="0.5" stop-color="#e0dfee"/><stop offset="0.75" stop-color="#c7c6e2"/><stop offset="1" stop-color="#aaa9d2"/></linearGradient><linearGradient id="gg38" x1="0" y1="0" x2="0" y2="1"><stop offset="0" stop-color="#fcfcfd"/><stop offset="0.25" stop-color="#f3f2f8"/><stop offset="0.5" stop-color="#e2dfed"/><stop offset="0.75" stop-color="#cbc6e0"/><stop offset="1" stop-color="#b0a8cf"/></linearGradient><linearGradient id="gg39" x1="0" y1="0" x2="0" y2="1"><stop offset="0" stop-color="#fcfcfd"/><stop offset="0.25" stop-color="#f4f2f7"/><stop offset="0.5" stop-color="#e4dfec"/><stop offset="0.75" stop-color="#d0c6dd"/><stop offset="1" stop-color="#b7a8cc"/></linearGradient><linearGradient id="gg40" x1="0" y1="0" x2="0" y2="1"><stop offset="0" stop-color="#fcfcfd"/><stop offset="0.25" stop-color="#f5f2f7"/><stop offset="0.5" stop-color="#e7dfeb"/><stop offset="0.75" stop-color="#d4c6db"/><stop offset="1" stop-color="#bea8c8"/></linearGradient><linearGradient id="gg41" x1="0" y1="0" x2="0" y2="1"><stop offset="0" stop-color="#fdfcfd"/><stop offset="0.25" stop-color="#f6f2f6"/><stop offset="0.5" stop-color="#eadfe9"/><stop offset="0.75" stop-color="#d9c6d9"/><stop offset="1" stop-color="#c5a8c4"/></linearGradient><linearGradient id="gg42" x1="0" y1="0" x2="0" y2="1"><stop offset="0" stop-color="#fdfbfd"/><stop offset="0.25" stop-color="#f7f2f6"/><stop offset="0.5" stop-color="#eddfe8"/><stop offset="0.75" stop-color="#dec6d6"/><stop offset="1" stop-color="#cda7c1"/></linearGradient><linearGradient id="gg43" x1="0" y1="0" x2="0" y2="1"><stop offset="0" stop-color="#fdfbfc"/><stop offset="0.25" stop-color="#f9f2f5"/><stop offset="0.5" stop-color="#efdfe7"/><stop offset="0.75" stop-color="#e3c5d4"/><stop offset="1" stop-color="#d4a7bd"/></linearGradient><linearGradient id="gg44" x1="0" y1="0" x2="0" y2="1"><stop offset="0" stop-color="#fefbfc"/><stop offset="0.25" stop-color="#faf2f4"/><stop offset="0.5" stop-color="#f2dfe5"/><stop offset="0.75" stop-color="#e8c5d1"/><stop offset="1" stop-color="#dba7b9"/></linearGradient><linearGradient id="gg45" x1="0" y1="0" x2="0" y2="1"><stop offset="0" stop-color="#fefbfc"/><stop offset="0.25" stop-color="#faf2f4"/><stop offset="0.5" stop-color="#f4dee4"/><stop offset="0.75" stop-color="#ecc5cf"/><stop offset="1" stop-color="#e1a6b6"/></linearGradient><linearGradient id="gg46" x1="0" y1="0" x2="0" y2="1"><stop offset="0" stop-color="#fefbfc"/><stop offset="0.25" stop-color="#fbf2f4"/><stop offset="0.5" stop-color="#f6dee3"/><stop offset="0.75" stop-color="#efc5ce"/><stop offset="1" stop-color="#e7a6b4"/></linearGradient><linearGradient id="gg47" x1="0" y1="0" x2="0" y2="1"><stop offset="0" stop-color="#fefbfc"/><stop offset="0.25" stop-color="#fcf1f3"/><stop offset="0.5" stop-color="#f7dee3"/><stop offset="0.75" stop-color="#f2c5cc"/><stop offset="1" stop-color="#eba6b2"/></linearGradient><linearGradient id="gg48" x1="0" y1="0" x2="0" y2="1"><stop offset="0" stop-color="#fefbfc"/><stop offset="0.25" stop-color="#fcf1f3"/><stop offset="0.5" stop-color="#f8dee2"/><stop offset="0.75" stop-color="#f3c5cc"/><stop offset="1" stop-color="#eda6b0"/></linearGradient><linearGradient id="gg49" x1="0" y1="0" x2="0" y2="1"><stop offset="0" stop-color="#fefbfc"/><stop offset="0.25" stop-color="#fcf1f3"/><stop offset="0.5" stop-color="#f9dee2"/><stop offset="0.75" stop-color="#f4c5cb"/><stop offset="1" stop-color="#eea6b0"/></linearGradient><linearGradient id="gg50" x1="0" y1="0" x2="0" y2="1"><stop offset="0" stop-color="#fefbfc"/><stop offset="0.25" stop-color="#fcf1f3"/><stop offset="0.5" stop-color="#f9dee2"/><stop offset="0.75" stop-color="#f4c5cb"/><stop offset="1" stop-color="#eea6b0"/></linearGradient><linearGradient id="gg51" x1="0" y1="0" x2="0" y2="1"><stop offset="0" stop-color="#fefbfc"/><stop offset="0.25" stop-color="#fcf1f3"/><stop offset="0.5" stop-color="#f9dee2"/><stop offset="0.75" stop-color="#f4c5cb"/><stop offset="1" stop-color="#eea6b0"/></linearGradient><linearGradient id="gg52" x1="0" y1="0" x2="0" y2="1"><stop offset="0" stop-color="#fefbfc"/><stop offset="0.25" stop-color="#fcf1f3"/><stop offset="0.5" stop-color="#f9dee2"/><stop offset="0.75" stop-color="#f4c5cb"/><stop offset="1" stop-color="#eea6b0"/></linearGradient></defs><rect x="458.7" y="206.7" width="3.5" height="126.4" fill="url(#gg0)"/><rect x="461.7" y="206.7" width="3.5" height="126.4" fill="url(#gg1)"/><rect x="464.7" y="206.7" width="3.5" height="126.4" fill="url(#gg2)"/><rect x="467.7" y="206.7" width="3.5" height="126.4" fill="url(#gg3)"/><rect x="470.7" y="206.7" width="3.5" height="126.4" fill="url(#gg4)"/><rect x="473.7" y="206.7" width="3.5" height="126.4" fill="url(#gg5)"/><rect x="476.7" y="206.7" width="3.5" height="126.4" fill="url(#gg6)"/><rect x="479.7" y="206.7" width="3.5" height="126.4" fill="url(#gg7)"/><rect x="482.7" y="206.7" width="3.5" height="126.4" fill="url(#gg8)"/><rect x="485.7" y="206.7" width="3.5" height="126.4" fill="url(#gg9)"/><rect x="488.7" y="206.7" width="3.5" height="126.4" fill="url(#gg10)"/><rect x="491.7" y="206.7" width="3.5" height="126.4" fill="url(#gg11)"/><rect x="494.7" y="206.7" width="3.5" height="126.4" fill="url(#gg12)"/><rect x="497.7" y="206.7" width="3.5" height="126.4" fill="url(#gg13)"/><rect x="500.7" y="206.7" width="3.5" height="126.4" fill="url(#gg14)"/><rect x="503.7" y="206.7" width="3.5" height="126.4" fill="url(#gg15)"/><rect x="506.7" y="206.7" width="3.5" height="126.4" fill="url(#gg16)"/><rect x="509.7" y="206.7" width="3.5" height="126.4" fill="url(#gg17)"/><rect x="512.7" y="206.7" width="3.5" height="126.4" fill="url(#gg18)"/><rect x="515.7" y="206.7" width="3.5" height="126.4" fill="url(#gg19)"/><rect x="518.7" y="206.7" width="3.5" height="126.4" fill="url(#gg20)"/><rect x="521.7" y="206.7" width="3.5" height="126.4" fill="url(#gg21)"/><rect x="524.7" y="206.7" width="3.5" height="126.4" fill="url(#gg22)"/><rect x="527.7" y="206.7" width="3.5" height="126.4" fill="url(#gg23)"/><rect x="530.7" y="206.7" width="3.5" height="126.4" fill="url(#gg24)"/><rect x="533.7" y="206.7" width="3.5" height="126.4" fill="url(#gg25)"/><rect x="536.7" y="206.7" width="3.5" height="126.4" fill="url(#gg26)"/><rect x="539.7" y="206.7" width="3.5" height="126.4" fill="url(#gg27)"/><rect x="542.7" y="206.7" width="3.5" height="126.4" fill="url(#gg28)"/><rect x="545.7" y="206.7" width="3.5" height="126.4" fill="url(#gg29)"/><rect x="548.7" y="206.7" width="3.5" height="126.4" fill="url(#gg30)"/><rect x="551.7" y="206.7" width="3.5" height="126.4" fill="url(#gg31)"/><rect x="554.7" y="206.7" width="3.5" height="126.4" fill="url(#gg32)"/><rect x="557.7" y="206.7" width="3.5" height="126.4" fill="url(#gg33)"/><rect x="560.7" y="206.7" width="3.5" height="126.4" fill="url(#gg34)"/><rect x="563.7" y="206.7" width="3.5" height="126.4" fill="url(#gg35)"/><rect x="566.7" y="206.7" width="3.5" height="126.4" fill="url(#gg36)"/><rect x="569.7" y="206.7" width="3.5" height="126.4" fill="url(#gg37)"/><rect x="572.7" y="206.7" width="3.5" height="126.4" fill="url(#gg38)"/><rect x="575.7" y="206.7" width="3.5" height="126.4" fill="url(#gg39)"/><rect x="578.7" y="206.7" width="3.5" height="126.4" fill="url(#gg40)"/><rect x="581.7" y="206.7" width="3.5" height="126.4" fill="url(#gg41)"/><rect x="584.7" y="206.7" width="3.5" height="126.4" fill="url(#gg42)"/><rect x="587.7" y="206.7" width="3.5" height="126.4" fill="url(#gg43)"/><rect x="590.7" y="206.7" width="3.5" height="126.4" fill="url(#gg44)"/><rect x="593.7" y="206.7" width="3.5" height="126.4" fill="url(#gg45)"/><rect x="596.7" y="206.7" width="3.5" height="126.4" fill="url(#gg46)"/><rect x="599.7" y="206.7" width="3.5" height="126.4" fill="url(#gg47)"/><rect x="602.7" y="206.7" width="3.5" height="126.4" fill="url(#gg48)"/><rect x="605.7" y="206.7" width="3.5" height="126.4" fill="url(#gg49)"/><rect x="608.7" y="206.7" width="3.5" height="126.4" fill="url(#gg50)"/><rect x="611.7" y="206.7" width="3.5" height="126.4" fill="url(#gg51)"/><rect x="614.7" y="206.7" width="1.9" height="126.4" fill="url(#gg52)"/>
<defs><linearGradient id="gl" gradientUnits="userSpaceOnUse" x1="0" y1="330" x2="0" y2="214"><stop offset="0" stop-color="#f43848"/><stop offset="0.2" stop-color="#e63c52"/><stop offset="0.45" stop-color="#a0509a"/><stop offset="0.65" stop-color="#6a60bc"/><stop offset="1" stop-color="#5a66c4"/></linearGradient></defs>
<path d="M465.7 327.9L469.3 320.5L473.7 311.4L489.6 276.8L496.1 263.2L499.7 255.9L503.3 249L506.9 242.6L509.8 237.8L513.5 232.3L517.1 227.4L519.2 224.8L520.7 223.2L522.9 221L524.3 219.8L526.5 218.1L527.9 217.1L529.4 216.2L530.8 215.5L533 214.7L534.4 214.3L535.9 214.1L537.3 214L538.8 214L540.2 214.2L541.7 214.5L543.9 215.2L545.3 215.8L546.7 216.6L548.2 217.5L550.4 219.1L551.8 220.3L554 222.3L555.4 223.8L557.6 226.3L561.2 231L564.8 236.3L567.7 240.9L571.3 247.2L575 253.9L578.6 261L585.8 275.9L602.5 311.4L609.7 326.2" fill="none" stroke="url(#gl)" stroke-width="1.1"/>
<circle cx="465.7" cy="328.2" r="3.8" fill="#fff" stroke="#f43848" stroke-width="1.15"/>
<circle cx="609.7" cy="326.4" r="3.8" fill="#fff" stroke="#f43848" stroke-width="1.15"/>
<circle cx="537.8" cy="214.1" r="3.8" fill="#d0d2ee" stroke="#5a64c0" stroke-width="1.15"/>
<rect x="458.7" y="206.7" width="157.9" height="126.4" fill="none" stroke="#555" stroke-width="1"/>
<line x1="458.7" y1="317.5" x2="461.2" y2="317.5" stroke="#555" stroke-width="0.8"/>
<text x="455.5" y="320" font-size="7.2" text-anchor="end" fill="#000" stroke="#000" stroke-width="0.15">16</text>
<line x1="458.7" y1="301.6" x2="460.2" y2="301.6" stroke="#555" stroke-width="0.8"/>
<line x1="458.7" y1="285.7" x2="461.2" y2="285.7" stroke="#555" stroke-width="0.8"/>
<text x="455.5" y="288.2" font-size="7.2" text-anchor="end" fill="#000" stroke="#000" stroke-width="0.15">18</text>
<line x1="458.7" y1="269.8" x2="460.2" y2="269.8" stroke="#555" stroke-width="0.8"/>
<line x1="458.7" y1="253.9" x2="461.2" y2="253.9" stroke="#555" stroke-width="0.8"/>
<text x="455.5" y="256.4" font-size="7.2" text-anchor="end" fill="#000" stroke="#000" stroke-width="0.15">20</text>
<line x1="458.7" y1="238" x2="460.2" y2="238" stroke="#555" stroke-width="0.8"/>
<line x1="458.7" y1="222.1" x2="461.2" y2="222.1" stroke="#555" stroke-width="0.8"/>
<text x="455.5" y="224.6" font-size="7.2" text-anchor="end" fill="#000" stroke="#000" stroke-width="0.15">22</text>
<line x1="465.7" y1="333.1" x2="465.7" y2="330.6" stroke="#555" stroke-width="0.8"/>
<line x1="537.7" y1="333.1" x2="537.7" y2="330.6" stroke="#555" stroke-width="0.8"/>
<line x1="609.7" y1="333.1" x2="609.7" y2="330.6" stroke="#555" stroke-width="0.8"/>
<text x="469.3" y="339.6" font-size="8.3" text-anchor="end" fill="#000" stroke="#000" stroke-width="0.17" transform="rotate(-45 469.3 339.6)">Neutral</text>
<text x="541.3" y="339.6" font-size="8.3" text-anchor="end" fill="#000" stroke="#000" stroke-width="0.17" transform="rotate(-45 541.3 339.6)">Base</text>
<text x="613.3" y="339.6" font-size="8.3" text-anchor="end" fill="#000" stroke="#000" stroke-width="0.17" transform="rotate(-45 613.3 339.6)">Acid</text>
<text x="443.5" y="270" font-size="8" text-anchor="middle" fill="#000" stroke="#000" stroke-width="0.17" transform="rotate(-90 443.5 270)"><tspan font-style="italic">χ</tspan><tspan font-size="5" dy="1.5">M</tspan><tspan dy="-1.5" font-style="italic">T</tspan> / cm<tspan font-size="5" dy="-2.5">3</tspan><tspan dy="2.5"> mol</tspan><tspan font-size="5" dy="-2.5">-1</tspan><tspan dy="2.5"> K</tspan></text>
<text x="429" y="209.4" font-size="10.8" text-anchor="start" fill="#000" stroke="#000" stroke-width="0.4">(g)</text>
<path d="M39.4 510.3V493.3M39.9 510.3V502.3M40.4 510.3V505.3M41 510.3V507.3M39.6 510.3V510.1M39.7 510.3V509M39.7 510.3V510.1M39.8 510.3V509.3M39.9 510.3V510.1M40 510.3V509.6M40 510.3V507M40 510.3V505.4M40.1 510.3V507.5M40.1 510.3V508.8M40.2 510.3V508.7M40.4 510.3V509.7M40.6 510.3V510.1M40.7 510.3V509.7M40.7 510.3V508.9M40.7 510.3V510.2M40.9 510.3V510.3M41 510.3V509.1M41.1 510.3V510.1M41.2 510.3V509.5M41.2 510.3V509.4M41.2 510.3V508.6M41.4 510.3V510M41.6 510.3V510.1M41.6 510.3V509.6M41.7 510.3V509.7M42 510.3V510M42 510.3V509.8M42 510.3V510M42 510.3V509.4M42.1 510.3V510.2M42.2 510.3V510M42.3 510.3V509.6M42.4 510.3V510.2M42.4 510.3V510.1M42.4 510.3V510.2M42.5 510.3V510.2M42.7 510.3V510.3M42.7 510.3V510.3M42.9 510.3V510.1M51.3 510.3V468.8M51.9 510.3V496.3M52.4 510.3V500.3M53.1 510.3V504.3M53.9 510.3V506.3M51.7 510.3V510.1M51.8 510.3V502.7M52.2 510.3V495.9M52.2 510.3V509.4M52.3 510.3V510.1M52.7 510.3V501.3M52.7 510.3V507M52.8 510.3V509M53.2 510.3V509.2M53.4 510.3V506.6M53.4 510.3V509.7M53.7 510.3V510.2M53.9 510.3V509.2M54.1 510.3V509.9M54.1 510.3V509.2M54.2 510.3V507.5M54.3 510.3V509.9M54.3 510.3V510M54.4 510.3V510.3M54.4 510.3V508.8M54.4 510.3V510.2M54.4 510.3V507.9M54.7 510.3V509.4M54.9 510.3V508.9M54.9 510.3V509.3M55.2 510.3V510.2M55.3 510.3V510.2M55.3 510.3V508.8M55.4 510.3V510.1M56 510.3V509.8M56.3 510.3V510.3M56.4 510.3V510.2M56.4 510.3V510M56.4 510.3V510.2M56.4 510.3V510M56.4 510.3V509.8M56.6 510.3V510.2M56.6 510.3V510.2M56.6 510.3V510.3M56.6 510.3V510.2M68.3 510.3V428.3M70.6 510.3V468.6M68.9 510.3V496.3M69.5 510.3V492.3M71.3 510.3V498.3M72.3 510.3V501.3M73.5 510.3V504.3M74.8 510.3V506.3M68.7 510.3V501.8M69.6 510.3V502.7M69.7 510.3V508.8M70.4 510.3V509.5M70.4 510.3V510M70.8 510.3V508.8M71.2 510.3V508M71.5 510.3V505.2M71.6 510.3V510.2M71.7 510.3V510.1M71.9 510.3V507.9M71.9 510.3V507.8M72 510.3V510M72.1 510.3V510.1M72.2 510.3V510.2M72.2 510.3V508.2M72.3 510.3V509.7M72.6 510.3V509.8M73.3 510.3V508.7M73.7 510.3V510.1M73.8 510.3V509.4M73.9 510.3V510.2M74.1 510.3V510.2M74.2 510.3V509.1M74.4 510.3V508.7M74.5 510.3V509.7M74.8 510.3V509.8M74.9 510.3V509.2M75.4 510.3V510.2M75.7 510.3V510.1M75.8 510.3V508.7M76.5 510.3V508.7M76.7 510.3V510.3M76.9 510.3V510.3M77.4 510.3V509.7M77.6 510.3V510.1M77.8 510.3V509.8M78.1 510.3V510M78.6 510.3V510.1M79.2 510.3V510M97.3 510.3V430.8M100.6 510.3V471.8M98 510.3V498.3M98.7 510.3V495.3M101.6 510.3V499.3M102.8 510.3V502.3M104.3 510.3V504.3M105.8 510.3V506.3M97.9 510.3V508.2M98.8 510.3V501.3M98.8 510.3V507.8M98.9 510.3V508.1M99.1 510.3V509M99.2 510.3V509.7M99.4 510.3V506.6M99.6 510.3V508.7M100.1 510.3V504.4M100.2 510.3V510.2M100.9 510.3V505.8M101 510.3V510.1M101 510.3V506.6M101.6 510.3V509.2M102.3 510.3V508.3M102.8 510.3V509.5M103.1 510.3V510.1M104 510.3V507.5M104 510.3V509.3M104.3 510.3V510.1M104.5 510.3V509.6M104.8 510.3V510.1M104.9 510.3V509.9M104.9 510.3V509.6M105.1 510.3V509.6M105.7 510.3V510.2M105.7 510.3V510.2M105.8 510.3V510M106.4 510.3V510M106.8 510.3V509.5M107.6 510.3V510M107.8 510.3V509.8M108 510.3V510.2M108.6 510.3V510.2M108.6 510.3V510.2M108.8 510.3V510.3M108.8 510.3V510.2M108.9 510.3V510.1M109 510.3V509.9M109.3 510.3V510.2M155.6 510.3V397.3M160.4 510.3V467M156.2 510.3V492.3M156.9 510.3V490.3M157.8 510.3V496.3M158.8 510.3V500.3M161.4 510.3V496.3M162.6 510.3V499.3M164.1 510.3V502.3M165.6 510.3V504.3M167.6 510.3V506.3M169.6 510.3V507.8M156.3 510.3V506.4M156.7 510.3V506.7M156.9 510.3V508.6M157.1 510.3V509.1M157.7 510.3V508.8M157.7 510.3V499.6M157.9 510.3V499.9M158.3 510.3V509.5M158.3 510.3V508M158.3 510.3V506.4M158.5 510.3V506.8M158.8 510.3V509.4M159.3 510.3V510.1M159.6 510.3V504.6M159.6 510.3V509.8M159.6 510.3V508.5M159.6 510.3V505.2M159.9 510.3V506.4M160.3 510.3V508.6M160.6 510.3V505.5M160.9 510.3V496M160.9 510.3V508.4M161.1 510.3V504.3M161.3 510.3V508.4M161.7 510.3V509.1M162.5 510.3V500.6M162.6 510.3V507.2M163.8 510.3V510.1M163.8 510.3V509M163.9 510.3V509.5M164 510.3V509.2M164 510.3V508M164.2 510.3V509.6M164.7 510.3V509M164.7 510.3V509.9M165.2 510.3V509.5M165.3 510.3V507.4M165.6 510.3V508.6M166 510.3V509.8M166.2 510.3V509.9M167.1 510.3V509.4M167.8 510.3V509.8M168.1 510.3V506.8M168.3 510.3V510M170.2 510.3V508.9M170.3 510.3V510.2M170.7 510.3V509.5M170.9 510.3V509.3M170.9 510.3V510.2M171.1 510.3V510M171.1 510.3V509.7M171.3 510.3V510.1M171.9 510.3V510.3M172 510.3V509.7M172.2 510.3V510M173.2 510.3V510.2M173.6 510.3V510.3M173.7 510.3V510.1M174.3 510.3V510.2M174.6 510.3V509.9M31.5 510.3V510M32.3 510.3V510.2M33.1 510.3V510M33.9 510.3V510.1M34.7 510.3V510.3M35.5 510.3V510M36.3 510.3V509.9M37.1 510.3V510M37.9 510.3V510.2M38.7 510.3V510.1M39.5 510.3V510.2M40.3 510.3V510.2M41.1 510.3V510.2M41.9 510.3V509.9M42.7 510.3V509.9M43.5 510.3V509.9M44.3 510.3V509.8M45.1 510.3V510.2M45.9 510.3V510.2M46.7 510.3V510.3M47.5 510.3V510.3M48.3 510.3V510M49.1 510.3V510.1M49.9 510.3V510M50.7 510.3V509.9M51.5 510.3V510.2M52.3 510.3V510.2M53.1 510.3V509.9M53.9 510.3V510.3M54.7 510.3V509.8M55.5 510.3V510.1M56.3 510.3V510.3M57.1 510.3V510.2M57.9 510.3V510.3M58.7 510.3V509.9M59.5 510.3V510.3M60.3 510.3V510.3M61.1 510.3V510M61.9 510.3V510.2M62.7 510.3V510.1M63.5 510.3V509.9M64.3 510.3V510.1M65.1 510.3V509.9M65.9 510.3V510.2M66.7 510.3V510.2M67.5 510.3V510.3M68.3 510.3V509.9M69.1 510.3V510.2M69.9 510.3V510.3M70.7 510.3V510.2M71.5 510.3V510M72.3 510.3V510M73.1 510.3V510.1M73.9 510.3V510M74.7 510.3V510.1M75.5 510.3V509.9M76.3 510.3V510M77.1 510.3V510.2M77.9 510.3V510.1M78.7 510.3V509.8M79.5 510.3V510.1M80.3 510.3V510M81.1 510.3V510.2M81.9 510.3V510M82.7 510.3V510M83.5 510.3V510.2M84.3 510.3V509.8M85.1 510.3V510.1M85.9 510.3V510.1M86.7 510.3V510M87.5 510.3V509.8M88.3 510.3V509.9M89.1 510.3V510M89.9 510.3V510.3M90.7 510.3V510.1M91.5 510.3V510M92.3 510.3V509.9M93.1 510.3V510.2M93.9 510.3V510.1M94.7 510.3V510M95.5 510.3V510M96.3 510.3V510.3M97.1 510.3V509.9M97.9 510.3V510.2M98.7 510.3V509.9M99.5 510.3V509.9M100.3 510.3V510M101.1 510.3V510M101.9 510.3V510.1M102.7 510.3V510.1M103.5 510.3V509.8M104.3 510.3V510M105.1 510.3V510.1M105.9 510.3V510.1M106.7 510.3V509.8M107.5 510.3V509.8M108.3 510.3V509.8M109.1 510.3V509.8M109.9 510.3V510.1M110.7 510.3V509.9M111.5 510.3V510M112.3 510.3V509.8M113.1 510.3V509.9M113.9 510.3V509.9M114.7 510.3V509.9M115.5 510.3V510M116.3 510.3V510M117.1 510.3V510.3M117.9 510.3V510.1M118.7 510.3V509.9M119.5 510.3V510.3M120.3 510.3V510.1M121.1 510.3V510M121.9 510.3V510.1M122.7 510.3V510.3M123.5 510.3V510.2M124.3 510.3V510M125.1 510.3V510M125.9 510.3V510M126.7 510.3V509.8M127.5 510.3V509.8M128.3 510.3V510.2M129.1 510.3V509.9M129.9 510.3V510M130.7 510.3V510M131.5 510.3V510.2M132.3 510.3V510.1M133.1 510.3V509.8M133.9 510.3V509.8M134.7 510.3V510.1M135.5 510.3V510.2M136.3 510.3V509.8M137.1 510.3V510M137.9 510.3V509.8M138.7 510.3V510.3M139.5 510.3V510M140.3 510.3V510.2M141.1 510.3V510.3M141.9 510.3V510.1M142.7 510.3V509.8M143.5 510.3V510.1M144.3 510.3V510.2M145.1 510.3V510M145.9 510.3V509.9M146.7 510.3V509.9M147.5 510.3V510.2M148.3 510.3V509.9M149.1 510.3V509.9M149.9 510.3V510.1M150.7 510.3V509.9M151.5 510.3V510.3M152.3 510.3V510.2M153.1 510.3V510.1M153.9 510.3V509.8M154.7 510.3V510M155.5 510.3V510M156.3 510.3V509.9M157.1 510.3V509.9M157.9 510.3V510.3M158.7 510.3V509.9M159.5 510.3V509.9M160.3 510.3V510.2M161.1 510.3V510M161.9 510.3V510.1M162.7 510.3V510.3M163.5 510.3V509.9M164.3 510.3V510.1M165.1 510.3V510M165.9 510.3V509.9M166.7 510.3V509.8M167.5 510.3V510M168.3 510.3V510.1M169.1 510.3V510.3M169.9 510.3V510.2M170.7 510.3V509.9M171.5 510.3V510.2M172.3 510.3V510M173.1 510.3V510.2M173.9 510.3V509.9M174.7 510.3V510.2M175.5 510.3V509.9M176.3 510.3V510.1M177.1 510.3V509.9M177.9 510.3V510.1M178.7 510.3V509.8M179.5 510.3V510M180.3 510.3V510.1M181.1 510.3V510.1M181.9 510.3V510.1M182.7 510.3V510M183.5 510.3V510.2M184.3 510.3V510.2M185.1 510.3V509.8M185.9 510.3V510.2M118 510.3V507.8" stroke="#000" stroke-width="0.5" fill="none"/>
<polygon points="38.8,510.3 38.9,509.7 39,509.1 39.1,508.8 39.2,508.4 39.3,508.2 39.4,506.9 39.5,507.2 39.6,507.7 39.7,507.8 39.9,508.3 40,508.5 40.1,509.2 40.2,508.9 40.3,509.3 40.4,509.4 40.5,509.5 40.6,509.5 40.7,509.5 40.8,509.7 40.9,509.8 41,509.9 41.1,509.8 41.2,510 41.3,510 41.4,510.1 41.5,510.1 41.6,510.1 41.7,510.1 41.8,510.1 42,510.1 42.1,510.1 42.2,510.2 42.3,510.2 42.4,510.2 42.5,510.2 42.6,510.2 42.7,510.2 42.8,510.2 42.9,510.3 42.9,510.3 38.8,510.3" fill="#111"/>
<polygon points="50.7,510.3 50.9,509.1 51,507.7 51.2,506.6 51.3,505.6 51.5,506.1 51.6,505.9 51.8,507.1 52,506.9 52.1,508 52.3,508.5 52.4,508.6 52.6,508.2 52.7,509 52.9,508.7 53,508.7 53.2,509.1 53.4,509.5 53.5,509.3 53.7,509.6 53.8,509.4 54,509.8 54.1,509.8 54.3,509.8 54.5,509.8 54.6,510 54.8,510 54.9,509.9 55.1,510 55.2,510.1 55.4,510.1 55.5,510.1 55.7,510.1 55.9,510.2 56,510.2 56.2,510.1 56.3,510.2 56.5,510.2 56.6,510.2 56.8,510.2 56.8,510.3 50.7,510.3" fill="#111"/>
<polygon points="67.7,510.3 68,508.4 68.3,505 68.6,504.2 68.9,505.1 69.2,505.9 69.5,506.5 69.8,506.5 70.1,507.8 70.4,507.9 70.7,507.8 71,507.8 71.3,508.6 71.6,509 71.9,509 72.2,509 72.5,509.4 72.8,509.1 73.1,509.1 73.4,509.5 73.6,509.3 73.9,509.6 74.2,509.7 74.5,509.6 74.8,509.7 75.1,509.8 75.4,509.8 75.7,509.9 76,509.9 76.3,510.1 76.6,510.1 76.9,510 77.2,510.1 77.5,510.1 77.8,510.2 78.1,510.1 78.4,510.2 78.7,510.1 79,510.2 79.3,510.2 79.3,510.3 67.7,510.3" fill="#111"/>
<polygon points="96.7,510.3 97,507.2 97.3,504.8 97.7,504.6 98,506.1 98.3,506.9 98.6,507 99,508.3 99.3,508.5 99.6,508 99.9,508.4 100.3,508.8 100.6,508.8 100.9,508.7 101.2,508.9 101.5,509.2 101.9,509 102.2,509.6 102.5,509.2 102.8,509.4 103.2,509.6 103.5,509.6 103.8,509.6 104.1,509.7 104.5,509.8 104.8,509.8 105.1,509.8 105.4,509.9 105.7,510 106.1,510.1 106.4,510.1 106.7,510.1 107,510.1 107.4,510.1 107.7,510.1 108,510.2 108.3,510.2 108.7,510.2 109,510.2 109.3,510.2 109.3,510.3 96.7,510.3" fill="#111"/>
<polygon points="155,510.3 155.5,506.7 156,503.4 156.5,505.6 157,504.9 157.5,506.1 158,505.9 158.5,506.2 159,508.1 159.5,508 160,508.4 160.5,507.6 161,508.2 161.5,508.1 162,508.3 162.5,508.7 163,508.8 163.5,508.9 164,509.2 164.5,509.2 165.1,509.2 165.6,509.6 166.1,509.7 166.6,509.6 167.1,509.9 167.6,509.9 168.1,509.9 168.6,509.8 169.1,510 169.6,510 170.1,510 170.6,510 171.1,510 171.6,510.1 172.1,510.1 172.6,510.1 173.1,510.1 173.6,510.2 174.1,510.2 174.6,510.2 174.6,510.3 155,510.3" fill="#111"/>
<line x1="30.2" y1="510.4" x2="187.5" y2="510.4" stroke="#222" stroke-width="0.55"/>
<text x="40.8" y="486.2" font-size="6" text-anchor="middle" fill="#000" stroke="#000" stroke-width="0.04">+6</text>
<text x="41.3" y="491.4" font-size="3.8" text-anchor="middle" fill="#111">533.9959</text>
<text x="53.2" y="461.4" font-size="6" text-anchor="middle" fill="#000" stroke="#000" stroke-width="0.04">+5</text>
<text x="53.7" y="466.3" font-size="3.8" text-anchor="middle" fill="#111">641.0028</text>
<text x="77.2" y="445.9" font-size="6" text-anchor="middle" fill="#000" stroke="#000" stroke-width="0.04">+4</text>
<text x="77.7" y="451.4" font-size="3.8" text-anchor="middle" fill="#111">801.5054</text>
<text x="107.1" y="435.4" font-size="6" text-anchor="middle" fill="#000" stroke="#000" stroke-width="0.04">+3</text>
<text x="107.6" y="440.6" font-size="3.8" text-anchor="middle" fill="#111">1069.3185</text>
<text x="165.2" y="408.8" font-size="6" text-anchor="middle" fill="#000" stroke="#000" stroke-width="0.04">+2</text>
<text x="165.7" y="414.4" font-size="3.8" text-anchor="middle" fill="#111">1604.0498</text>
<rect x="31.3" y="402.7" width="61.3" height="2.6" fill="#c4c4c4"/>
<path d="M34 403.2V399.3M38.6 403.2V396.9M43.3 403.2V396.3M48 403.2V395.5M52.7 403.2V394.9M57.3 403.2V390M62.1 403.2V388.6M66.6 403.2V392.2M71.3 403.2V396M75.8 403.2V399.9M80.5 403.2V401.3M85.1 403.2V402.4M89.6 403.2V402.4" stroke="#383838" stroke-width="0.85" fill="none"/>
<circle cx="34" cy="403.9" r="0.7" fill="#fff"/>
<circle cx="38.6" cy="403.9" r="0.7" fill="#fff"/>
<circle cx="43.3" cy="403.9" r="0.7" fill="#fff"/>
<circle cx="48" cy="403.9" r="0.7" fill="#fff"/>
<circle cx="52.7" cy="403.9" r="0.7" fill="#fff"/>
<circle cx="57.3" cy="403.9" r="0.7" fill="#fff"/>
<circle cx="62.1" cy="403.9" r="0.7" fill="#fff"/>
<circle cx="66.6" cy="403.9" r="0.7" fill="#fff"/>
<circle cx="71.3" cy="403.9" r="0.7" fill="#fff"/>
<circle cx="75.8" cy="403.9" r="0.7" fill="#fff"/>
<circle cx="80.5" cy="403.9" r="0.7" fill="#fff"/>
<circle cx="85.1" cy="403.9" r="0.7" fill="#fff"/>
<circle cx="89.6" cy="403.9" r="0.7" fill="#fff"/>
<rect x="31.3" y="420.4" width="61.3" height="2.6" fill="#c4c4c4"/>
<path d="M34 420.9V420.5M38.6 420.9V420M43.3 420.9V419.4M48 420.9V416.7M52.7 420.9V414.8M57.3 420.9V409.3M62.1 420.9V406.3M66.6 420.9V408.5M71.3 420.9V413.4M75.8 420.9V417.3M80.5 420.9V419.4M85.1 420.9V420.4M89.6 420.9V420.4" stroke="#383838" stroke-width="0.85" fill="none"/>
<circle cx="34" cy="421.6" r="0.7" fill="#fff"/>
<circle cx="38.6" cy="421.6" r="0.7" fill="#fff"/>
<circle cx="43.3" cy="421.6" r="0.7" fill="#fff"/>
<circle cx="48" cy="421.6" r="0.7" fill="#fff"/>
<circle cx="52.7" cy="421.6" r="0.7" fill="#fff"/>
<circle cx="57.3" cy="421.6" r="0.7" fill="#fff"/>
<circle cx="62.1" cy="421.6" r="0.7" fill="#fff"/>
<circle cx="66.6" cy="421.6" r="0.7" fill="#fff"/>
<circle cx="71.3" cy="421.6" r="0.7" fill="#fff"/>
<circle cx="75.8" cy="421.6" r="0.7" fill="#fff"/>
<circle cx="80.5" cy="421.6" r="0.7" fill="#fff"/>
<circle cx="85.1" cy="421.6" r="0.7" fill="#fff"/>
<circle cx="89.6" cy="421.6" r="0.7" fill="#fff"/>
<text x="82.7" y="391.4" font-size="3.4" text-anchor="middle" fill="#333">Experiment</text>
<text x="83.3" y="395.4" font-size="3.4" text-anchor="middle" fill="#333">+3</text>
<text x="82.7" y="409.5" font-size="3.4" text-anchor="middle" fill="#333">Calculated</text>
<text x="83.3" y="413.6" font-size="3.4" text-anchor="middle" fill="#333">+3</text>
<text x="34.6" y="425.3" font-size="2.8" text-anchor="middle" fill="#333">1067</text>
<text x="48.2" y="425.3" font-size="2.8" text-anchor="middle" fill="#333">1068</text>
<text x="61.4" y="425.3" font-size="2.8" text-anchor="middle" fill="#333">1069</text>
<text x="75.6" y="425.3" font-size="2.8" text-anchor="middle" fill="#333">1070</text>
<text x="89.3" y="425.3" font-size="2.8" text-anchor="middle" fill="#333">1071</text>
<text x="60.8" y="428.3" font-size="2.8" text-anchor="middle" fill="#333"><tspan font-style="italic">m / z</tspan></text>
<rect x="30.2" y="386.1" width="157.3" height="127.7" fill="none" stroke="#555" stroke-width="1"/>
<line x1="45.6" y1="513.8" x2="45.6" y2="511.4" stroke="#555" stroke-width="0.8"/>
<text x="45.6" y="521.5" font-size="7.2" text-anchor="middle" fill="#000" stroke="#000" stroke-width="0.15">600</text>
<line x1="62.1" y1="513.8" x2="62.1" y2="512.4" stroke="#555" stroke-width="0.8"/>
<line x1="78.6" y1="513.8" x2="78.6" y2="511.4" stroke="#555" stroke-width="0.8"/>
<text x="78.6" y="521.5" font-size="7.2" text-anchor="middle" fill="#000" stroke="#000" stroke-width="0.15">900</text>
<line x1="95.1" y1="513.8" x2="95.1" y2="512.4" stroke="#555" stroke-width="0.8"/>
<line x1="111.6" y1="513.8" x2="111.6" y2="511.4" stroke="#555" stroke-width="0.8"/>
<text x="111.6" y="521.5" font-size="7.2" text-anchor="middle" fill="#000" stroke="#000" stroke-width="0.15">1200</text>
<line x1="128.1" y1="513.8" x2="128.1" y2="512.4" stroke="#555" stroke-width="0.8"/>
<line x1="144.6" y1="513.8" x2="144.6" y2="511.4" stroke="#555" stroke-width="0.8"/>
<text x="144.6" y="521.5" font-size="7.2" text-anchor="middle" fill="#000" stroke="#000" stroke-width="0.15">1500</text>
<line x1="161.1" y1="513.8" x2="161.1" y2="512.4" stroke="#555" stroke-width="0.8"/>
<line x1="177.6" y1="513.8" x2="177.6" y2="511.4" stroke="#555" stroke-width="0.8"/>
<text x="177.6" y="521.5" font-size="7.2" text-anchor="middle" fill="#000" stroke="#000" stroke-width="0.15">1800</text>
<text x="110" y="532.3" font-size="9" text-anchor="middle" fill="#000" stroke="#000" stroke-width="0.19"><tspan font-style="italic">m</tspan> / <tspan font-style="italic">z</tspan></text>
<text x="0" y="384.7" font-size="10.8" text-anchor="start" fill="#000" stroke="#000" stroke-width="0.4">(h)</text>
<clipPath id="ci"><rect x="243.9" y="386.4" width="158.49999999999997" height="126.0"/></clipPath>
<g clip-path="url(#ci)" fill="none">
<path d="M243.9 511.6L250.3 511.4L260.4 511.4L262 511.2L263.6 510.8L263.9 510.6L264.5 510L265.5 508.3L268 502.3L270.6 495.2L271.5 493.2L273.1 491.3L278.2 486.4L279.2 485.3L279.8 484.3L280.4 482.7L281.1 480.6L283 473.2L283.9 470.1L285.8 465.5L287.4 462.3L288.7 460.1L289.6 458.7L290.9 457.3L293.8 454.4L295.4 452.2L296.9 449.1L299.2 443.9L301.4 437.6L302.3 435.3L303 434.2L304.6 432.1L305.5 431.1L306.2 430.7L306.8 430.5L307.4 430.6L308.1 431L308.7 431.6L311.2 434.8L314.4 440.1L316.3 442L317 442.4L317.6 442.7L318.5 442.6L319.5 442.2L325.5 438.9L327.4 438.1L329.7 438.2L332.5 438.6L335.7 439.3L337 439.2L337.6 438.8L338.2 438.2L341.4 434L342.7 432.8L345.2 431.5L347.1 430.7L348.7 430.3L350.3 430.1L353.5 430.2L357 430.4L369.7 432.1L387.8 435.2L402.4 438.1" stroke="#9040e8" stroke-width="1"/>
<path d="M243.9 512L259.8 511.7L263.9 511.3L264.9 510.7L267.4 507.6L270.3 505.3L270.9 505L271.5 504.8L275.3 505.3L276.3 505.1L277.6 504.3L279.2 502.4L280.1 500.9L281.4 497.1L284.2 486.2L287.4 473.2L290.9 461.1L292.5 456.6L299.5 439L302.3 431.2L303 429.8L303.9 428.4L305.2 426.8L306.5 425.5L308.7 423.7L313.1 421.1L315.4 420.3L316.6 420L317.6 420L320.1 420.4L323.9 421.5L326.5 422.8L338.9 430L349.4 435.4L356 439L358.2 440L362.7 441.5L364.9 442.2L366.8 442.5L368.7 442.7L370.6 442.6L373.2 442.2L376 441.6L380.8 440.4L387.8 437.7L390.3 436.8L396.7 435.3L402.4 434.3" stroke="#f4a050" stroke-width="1"/>
<path d="M243.9 511.9L260.1 511.9L264.2 511.4L269.3 509.8L275 508.6L279.5 507.3L281.1 506.5L282 505.9L282.7 505.2L283.6 503.9L285.5 500.3L286.5 497.7L287.7 493.1L290 483.9L293.8 466.4L300.1 433.8L301.1 429.6L303.3 421L304.3 417.9L305.2 415.7L307.4 412.3L308.4 411.2L309.3 410.5L310 410.3L310.9 410.3L312.5 411.1L322.4 419.2L330 424.2L334.4 427.4L337.6 430.1L341.7 434.9L343.3 436.6L346.5 439.4L350 442.1L354.1 444.8L356.7 446.3L358.6 447.1L362.7 448.3L364.6 448.5L367.5 448.3L372.5 447.4L373.8 446.9L375.4 446.1L377 445L388.4 436.8L391.3 435L397.3 431.9L399.9 430.8L402.4 429.9" stroke="#7a8ad6" stroke-width="0.9"/>
<path d="M243.9 511.9L260.1 511.9L264.2 511.4L269.3 509.9L275 508.6L279.5 507.3L281.1 506.6L282 506L282.7 505.3L283.6 504L285.5 500.4L286.5 497.8L287.7 493.2L290 484L293.8 466.6L300.1 434.1L301.1 429.9L303 422.6L304.3 418.4L305.2 416.2L307.4 413.1L308.4 412.1L309.3 411.4L310 411.2L310.6 411.2L311.6 411.4L312.5 411.9L322.4 419.5L329.7 424.2L334.1 427.3L337.6 430.3L342 435.5L344.6 438L348.4 441.2L352.5 444.2L355.1 445.9L357.3 447.2L360.8 448.5L363 449.2L364.9 449.3L367.5 449.1L371.6 448.2L373.8 447.5L376.7 445.8L388.1 437.7L391.3 435.6L397.3 432.7L399.9 431.7L402.4 430.8" stroke="#b494cc" stroke-width="0.9"/>
<path d="M243.9 512L260.1 511.9L264.2 511.4L269.3 509.9L275 508.7L279.2 507.5L281.7 506.3L282.3 505.7L283.3 504.5L284.2 503L285.5 500.5L286.5 497.9L287.7 493.3L290 484.1L293.8 466.7L300.1 434.4L301.1 430.3L303 423L304.3 419L305.2 416.9L307.4 413.9L308.4 412.9L309.3 412.3L310 412.1L310.9 412.1L311.9 412.5L312.8 413L316.6 415.6L322.7 420L329 424L332.5 426.4L335.1 428.4L337.3 430.3L343 437L346.2 440L349.7 442.9L354.4 446.6L357 448.3L360.8 450.2L363.3 451L365.2 451.2L367.5 450.9L370.3 450.1L373.5 448.9L376 447.3L381.8 443L388.4 438.3L391 436.7L393.5 435.3L397 433.7L399.9 432.6L402.4 431.8" stroke="#ec8c98" stroke-width="0.9"/>
<path d="M243.9 512L260.1 512L264.2 511.5L269.3 510L275 508.8L279.2 507.6L281.7 506.4L282.3 505.9L283.3 504.7L284.2 503.1L285.5 500.6L286.5 498.1L287.7 493.4L290 484.3L293.8 467L300.1 435L301.1 430.9L303 423.9L304.3 419.9L305.2 418L307.4 415.3L309 414.1L310 413.8L310.9 413.8L312.2 414.2L313.5 414.8L317.3 416.9L322.7 420.5L328.4 423.9L331.6 426L334.7 428.3L337.3 430.5L343 437.2L346.5 440.5L350 443.4L354.8 447.2L357.3 448.9L361.1 450.8L363.3 451.6L365.2 451.7L367.5 451.4L370 450.6L373.5 449.2L376 447.8L381.8 443.7L388.1 439.5L391 437.8L393.5 436.6L397 435.2L399.9 434.2L402.4 433.6" stroke="#e84444" stroke-width="1.0"/>
<path d="M243.9 510.7L246.1 510L248 509.9L249 510L251.8 510.7L257.6 511.5L260.7 511.5L263.9 511.1L266.1 510.5L266.8 510L268.7 508L269.3 507.5L270.9 507.1L275.7 506.5L279.8 505.6L281.4 504.9L282 504.5L283.3 502.9L284.2 501.2L285.2 499.1L287.7 492.4L289 487.9L290.3 482.4L292.5 472.2L294.4 462.4L300.8 425.7L302 418.9L303 414.6L304.9 407.9L305.8 405.1L306.5 403.6L307.1 402.6L307.7 401.9L309 400.8L310 400.2L310.9 399.9L311.9 400L312.8 400.7L314.4 402.6L315.1 403.8L315.7 405.3L318.2 412.5L319.5 415L321.1 417.6L322.7 419.9L327.1 425.8L328.7 427.6L329.7 428.2L330.6 428.5L332.5 428.9L337.3 429.4L338.6 429.7L339.5 430.1L341.7 431.6L346.5 435.5L350.9 439.5L352.8 441L358.2 444L359.8 444.7L361.4 445.2L362.7 445.5L364 445.5L365.2 445.4L366.8 445.1L370 444L375.4 441.6L378.9 439.6L385.2 435.1L387.8 433.5L395.4 429.3L402.4 425.9" stroke="#4a90e8" stroke-width="1"/>
<path d="M243.9 512L260.1 512L264.2 511.5L269.3 510L275 508.8L279.2 507.6L281.7 506.4L282.3 505.9L283.3 504.7L284.2 503.1L285.5 500.6L286.5 498.1L287.7 493.5L290 484.4L293.8 467.1L299.8 436.6L301.1 431.1L302.7 425.3L303.9 421.2L304.9 419L305.5 418.1L307.1 416.3L308.1 415.4L309 414.9L310.3 414.5L311.6 414.7L312.8 415.2L316 416.6L318.2 417.8L322.7 420.6L330 424.8L334.1 427.7L337 430L338.6 431.7L343 436.8L346.5 440L350 442.9L354.4 446.1L357 447.7L360.8 449.3L363.3 450.1L365.2 450.2L367.5 450L370.3 449.3L373.8 448.1L376.4 446.8L381.8 443.2L388.4 439L391 437.5L393.5 436.4L397 435L399.9 434.1L402.4 433.4" stroke="#e82828" stroke-width="1.3"/>
</g>
<rect x="243.9" y="386.4" width="158.5" height="126" fill="none" stroke="#555" stroke-width="1"/>
<line x1="243.9" y1="512.4" x2="243.9" y2="509.9" stroke="#555" stroke-width="0.8"/>
<text x="243.9" y="522.2" font-size="7.5" text-anchor="middle" fill="#000" stroke="#000" stroke-width="0.16">7100</text>
<line x1="253.81" y1="512.4" x2="253.81" y2="510.9" stroke="#555" stroke-width="0.8"/>
<line x1="263.71" y1="512.4" x2="263.71" y2="510.9" stroke="#555" stroke-width="0.8"/>
<line x1="273.62" y1="512.4" x2="273.62" y2="510.9" stroke="#555" stroke-width="0.8"/>
<line x1="283.52" y1="512.4" x2="283.52" y2="509.9" stroke="#555" stroke-width="0.8"/>
<text x="283.52" y="522.2" font-size="7.5" text-anchor="middle" fill="#000" stroke="#000" stroke-width="0.16">7120</text>
<line x1="293.43" y1="512.4" x2="293.43" y2="510.9" stroke="#555" stroke-width="0.8"/>
<line x1="303.34" y1="512.4" x2="303.34" y2="510.9" stroke="#555" stroke-width="0.8"/>
<line x1="313.24" y1="512.4" x2="313.24" y2="510.9" stroke="#555" stroke-width="0.8"/>
<line x1="323.15" y1="512.4" x2="323.15" y2="509.9" stroke="#555" stroke-width="0.8"/>
<text x="323.15" y="522.2" font-size="7.5" text-anchor="middle" fill="#000" stroke="#000" stroke-width="0.16">7140</text>
<line x1="333.06" y1="512.4" x2="333.06" y2="510.9" stroke="#555" stroke-width="0.8"/>
<line x1="342.96" y1="512.4" x2="342.96" y2="510.9" stroke="#555" stroke-width="0.8"/>
<line x1="352.87" y1="512.4" x2="352.87" y2="510.9" stroke="#555" stroke-width="0.8"/>
<line x1="362.77" y1="512.4" x2="362.77" y2="509.9" stroke="#555" stroke-width="0.8"/>
<text x="362.77" y="522.2" font-size="7.5" text-anchor="middle" fill="#000" stroke="#000" stroke-width="0.16">7160</text>
<line x1="372.68" y1="512.4" x2="372.68" y2="510.9" stroke="#555" stroke-width="0.8"/>
<line x1="382.59" y1="512.4" x2="382.59" y2="510.9" stroke="#555" stroke-width="0.8"/>
<line x1="392.49" y1="512.4" x2="392.49" y2="510.9" stroke="#555" stroke-width="0.8"/>
<line x1="402.4" y1="512.4" x2="402.4" y2="509.9" stroke="#555" stroke-width="0.8"/>
<text x="402.4" y="522.2" font-size="7.5" text-anchor="middle" fill="#000" stroke="#000" stroke-width="0.16">7180</text>
<line x1="243.9" y1="512.4" x2="246.4" y2="512.4" stroke="#555" stroke-width="0.8"/>
<text x="240.8" y="514.9" font-size="7.2" text-anchor="end" fill="#000" stroke="#000" stroke-width="0.15">0.0</text>
<line x1="243.9" y1="499.8" x2="245.4" y2="499.8" stroke="#555" stroke-width="0.8"/>
<line x1="243.9" y1="487.2" x2="246.4" y2="487.2" stroke="#555" stroke-width="0.8"/>
<text x="240.8" y="489.7" font-size="7.2" text-anchor="end" fill="#000" stroke="#000" stroke-width="0.15">0.3</text>
<line x1="243.9" y1="474.6" x2="245.4" y2="474.6" stroke="#555" stroke-width="0.8"/>
<line x1="243.9" y1="462" x2="246.4" y2="462" stroke="#555" stroke-width="0.8"/>
<text x="240.8" y="464.5" font-size="7.2" text-anchor="end" fill="#000" stroke="#000" stroke-width="0.15">0.6</text>
<line x1="243.9" y1="449.4" x2="245.4" y2="449.4" stroke="#555" stroke-width="0.8"/>
<line x1="243.9" y1="436.8" x2="246.4" y2="436.8" stroke="#555" stroke-width="0.8"/>
<text x="240.8" y="439.3" font-size="7.2" text-anchor="end" fill="#000" stroke="#000" stroke-width="0.15">0.9</text>
<line x1="243.9" y1="424.2" x2="245.4" y2="424.2" stroke="#555" stroke-width="0.8"/>
<line x1="243.9" y1="411.6" x2="246.4" y2="411.6" stroke="#555" stroke-width="0.8"/>
<text x="240.8" y="414.1" font-size="7.2" text-anchor="end" fill="#000" stroke="#000" stroke-width="0.15">1.2</text>
<line x1="243.9" y1="399" x2="245.4" y2="399" stroke="#555" stroke-width="0.8"/>
<line x1="243.9" y1="386.4" x2="246.4" y2="386.4" stroke="#555" stroke-width="0.8"/>
<text x="240.8" y="388.9" font-size="7.2" text-anchor="end" fill="#000" stroke="#000" stroke-width="0.15">1.5</text>
<text x="323.2" y="530.8" font-size="8.6" text-anchor="middle" fill="#000" stroke="#000" stroke-width="0.18">Energy (eV)</text>
<text x="229.3" y="450.3" font-size="8.5" text-anchor="middle" fill="#000" stroke="#000" stroke-width="0.18" transform="rotate(-90 229.3 450.3)">Normalized intensity (a.u.)</text>
<line x1="248" y1="390.6" x2="260" y2="390.6" stroke="#9040e8" stroke-width="1.1"/>
<text x="261.6" y="392.6" font-size="5.6" text-anchor="start" fill="#000">Fe foil</text>
<line x1="248" y1="397.43" x2="260" y2="397.43" stroke="#f4a050" stroke-width="1.1"/>
<text x="261.6" y="399.43" font-size="5.6" text-anchor="start" fill="#000">FePc</text>
<line x1="248" y1="404.26" x2="260" y2="404.26" stroke="#4a90e8" stroke-width="1.3"/>
<text x="261.6" y="406.26" font-size="5.6" text-anchor="start" fill="#000">Fe<tspan font-size="3.8" dy="1.2">2</tspan><tspan dy="-1.2">O</tspan><tspan font-size="3.8" dy="1.2">3</tspan></text>
<line x1="248" y1="411.09" x2="260" y2="411.09" stroke="#e82828" stroke-width="1.6"/>
<text x="261.6" y="413.09" font-size="5.6" text-anchor="start" fill="#000">0 equiv Base</text>
<line x1="248" y1="417.92" x2="260" y2="417.92" stroke="#ec8c98" stroke-width="1.1"/>
<text x="261.6" y="419.92" font-size="5.6" text-anchor="start" fill="#000">4 equiv Base</text>
<line x1="248" y1="424.75" x2="260" y2="424.75" stroke="#b494cc" stroke-width="1.4"/>
<text x="261.6" y="426.75" font-size="5.6" text-anchor="start" fill="#000">8 equiv Base</text>
<line x1="248" y1="431.58" x2="260" y2="431.58" stroke="#7a8ad6" stroke-width="1.4"/>
<text x="261.6" y="433.58" font-size="5.6" text-anchor="start" fill="#000">12 equiv Base</text>
<line x1="248" y1="438.41" x2="260" y2="438.41" stroke="#e82828" stroke-width="1.2"/>
<text x="261.6" y="440.41" font-size="5.6" text-anchor="start" fill="#000"> Acid</text>
<text x="214.3" y="384.7" font-size="10.8" text-anchor="start" fill="#000" stroke="#000" stroke-width="0.4">(i)</text>
<defs><linearGradient id="gj0" x1="0" y1="0" x2="0" y2="1"><stop offset="0" stop-color="#fefbfc"/><stop offset="0.25" stop-color="#fcf1f3"/><stop offset="0.5" stop-color="#f9dee2"/><stop offset="0.75" stop-color="#f4c5cb"/><stop offset="1" stop-color="#eea6b0"/></linearGradient><linearGradient id="gj1" x1="0" y1="0" x2="0" y2="1"><stop offset="0" stop-color="#fefbfc"/><stop offset="0.25" stop-color="#fcf1f3"/><stop offset="0.5" stop-color="#f9dee2"/><stop offset="0.75" stop-color="#f4c5cb"/><stop offset="1" stop-color="#eea6b0"/></linearGradient><linearGradient id="gj2" x1="0" y1="0" x2="0" y2="1"><stop offset="0" stop-color="#fefbfc"/><stop offset="0.25" stop-color="#fcf1f3"/><stop offset="0.5" stop-color="#f9dee2"/><stop offset="0.75" stop-color="#f4c5cb"/><stop offset="1" stop-color="#eea6b0"/></linearGradient><linearGradient id="gj3" x1="0" y1="0" x2="0" y2="1"><stop offset="0" stop-color="#fefbfc"/><stop offset="0.25" stop-color="#fcf1f3"/><stop offset="0.5" stop-color="#f9dee2"/><stop offset="0.75" stop-color="#f4c5cb"/><stop offset="1" stop-color="#eea6b0"/></linearGradient><linearGradient id="gj4" x1="0" y1="0" x2="0" y2="1"><stop offset="0" stop-color="#fefbfc"/><stop offset="0.25" stop-color="#fcf1f3"/><stop offset="0.5" stop-color="#f9dee2"/><stop offset="0.75" stop-color="#f4c5cb"/><stop offset="1" stop-color="#eea6b0"/></linearGradient><linearGradient id="gj5" x1="0" y1="0" x2="0" y2="1"><stop offset="0" stop-color="#fefbfc"/><stop offset="0.25" stop-color="#fcf1f3"/><stop offset="0.5" stop-color="#f9dee2"/><stop offset="0.75" stop-color="#f4c5cb"/><stop offset="1" stop-color="#eea6b0"/></linearGradient><linearGradient id="gj6" x1="0" y1="0" x2="0" y2="1"><stop offset="0" stop-color="#fefbfc"/><stop offset="0.25" stop-color="#fcf1f3"/><stop offset="0.5" stop-color="#f9dee2"/><stop offset="0.75" stop-color="#f4c5cb"/><stop offset="1" stop-color="#eea6b0"/></linearGradient><linearGradient id="gj7" x1="0" y1="0" x2="0" y2="1"><stop offset="0" stop-color="#fefbfc"/><stop offset="0.25" stop-color="#fcf1f3"/><stop offset="0.5" stop-color="#f9dee2"/><stop offset="0.75" stop-color="#f4c5cb"/><stop offset="1" stop-color="#eea6b0"/></linearGradient><linearGradient id="gj8" x1="0" y1="0" x2="0" y2="1"><stop offset="0" stop-color="#fefbfc"/><stop offset="0.25" stop-color="#fcf1f3"/><stop offset="0.5" stop-color="#f9dee2"/><stop offset="0.75" stop-color="#f4c5cb"/><stop offset="1" stop-color="#eea6b0"/></linearGradient><linearGradient id="gj9" x1="0" y1="0" x2="0" y2="1"><stop offset="0" stop-color="#fefbfc"/><stop offset="0.25" stop-color="#fcf1f3"/><stop offset="0.5" stop-color="#f9dee2"/><stop offset="0.75" stop-color="#f4c5cb"/><stop offset="1" stop-color="#eea6b0"/></linearGradient><linearGradient id="gj10" x1="0" y1="0" x2="0" y2="1"><stop offset="0" stop-color="#fefbfc"/><stop offset="0.25" stop-color="#fcf1f3"/><stop offset="0.5" stop-color="#f9dee2"/><stop offset="0.75" stop-color="#f4c5cb"/><stop offset="1" stop-color="#eea6b0"/></linearGradient><linearGradient id="gj11" x1="0" y1="0" x2="0" y2="1"><stop offset="0" stop-color="#fefbfc"/><stop offset="0.25" stop-color="#fcf1f3"/><stop offset="0.5" stop-color="#f9dee2"/><stop offset="0.75" stop-color="#f4c5cb"/><stop offset="1" stop-color="#eea6b0"/></linearGradient><linearGradient id="gj12" x1="0" y1="0" x2="0" y2="1"><stop offset="0" stop-color="#fefbfc"/><stop offset="0.25" stop-color="#fcf1f3"/><stop offset="0.5" stop-color="#f8dee2"/><stop offset="0.75" stop-color="#f3c5cc"/><stop offset="1" stop-color="#eda6b0"/></linearGradient><linearGradient id="gj13" x1="0" y1="0" x2="0" y2="1"><stop offset="0" stop-color="#fefbfc"/><stop offset="0.25" stop-color="#fcf1f3"/><stop offset="0.5" stop-color="#f8dee2"/><stop offset="0.75" stop-color="#f2c5cc"/><stop offset="1" stop-color="#eca6b1"/></linearGradient><linearGradient id="gj14" x1="0" y1="0" x2="0" y2="1"><stop offset="0" stop-color="#fefbfc"/><stop offset="0.25" stop-color="#fcf1f3"/><stop offset="0.5" stop-color="#f7dee3"/><stop offset="0.75" stop-color="#f1c5cd"/><stop offset="1" stop-color="#eaa6b2"/></linearGradient><linearGradient id="gj15" x1="0" y1="0" x2="0" y2="1"><stop offset="0" stop-color="#fefbfc"/><stop offset="0.25" stop-color="#fcf2f3"/><stop offset="0.5" stop-color="#f7dee3"/><stop offset="0.75" stop-color="#f0c5cd"/><stop offset="1" stop-color="#e8a6b3"/></linearGradient><linearGradient id="gj16" x1="0" y1="0" x2="0" y2="1"><stop offset="0" stop-color="#fefbfc"/><stop offset="0.25" stop-color="#fbf2f4"/><stop offset="0.5" stop-color="#f6dee3"/><stop offset="0.75" stop-color="#efc5ce"/><stop offset="1" stop-color="#e6a6b4"/></linearGradient><linearGradient id="gj17" x1="0" y1="0" x2="0" y2="1"><stop offset="0" stop-color="#fefbfc"/><stop offset="0.25" stop-color="#fbf2f4"/><stop offset="0.5" stop-color="#f5dee4"/><stop offset="0.75" stop-color="#edc5cf"/><stop offset="1" stop-color="#e3a6b5"/></linearGradient><linearGradient id="gj18" x1="0" y1="0" x2="0" y2="1"><stop offset="0" stop-color="#fefbfc"/><stop offset="0.25" stop-color="#faf2f4"/><stop offset="0.5" stop-color="#f4dee4"/><stop offset="0.75" stop-color="#ebc5d0"/><stop offset="1" stop-color="#e0a7b7"/></linearGradient><linearGradient id="gj19" x1="0" y1="0" x2="0" y2="1"><stop offset="0" stop-color="#fefbfc"/><stop offset="0.25" stop-color="#faf2f4"/><stop offset="0.5" stop-color="#f3dee5"/><stop offset="0.75" stop-color="#e9c5d1"/><stop offset="1" stop-color="#dda7b8"/></linearGradient><linearGradient id="gj20" x1="0" y1="0" x2="0" y2="1"><stop offset="0" stop-color="#fefbfc"/><stop offset="0.25" stop-color="#f9f2f5"/><stop offset="0.5" stop-color="#f1dfe6"/><stop offset="0.75" stop-color="#e7c5d2"/><stop offset="1" stop-color="#daa7ba"/></linearGradient><linearGradient id="gj21" x1="0" y1="0" x2="0" y2="1"><stop offset="0" stop-color="#fdfbfc"/><stop offset="0.25" stop-color="#f9f2f5"/><stop offset="0.5" stop-color="#f0dfe6"/><stop offset="0.75" stop-color="#e4c5d3"/><stop offset="1" stop-color="#d6a7bc"/></linearGradient><linearGradient id="gj22" x1="0" y1="0" x2="0" y2="1"><stop offset="0" stop-color="#fdfbfc"/><stop offset="0.25" stop-color="#f8f2f5"/><stop offset="0.5" stop-color="#efdfe7"/><stop offset="0.75" stop-color="#e2c5d4"/><stop offset="1" stop-color="#d3a7be"/></linearGradient><linearGradient id="gj23" x1="0" y1="0" x2="0" y2="1"><stop offset="0" stop-color="#fdfbfc"/><stop offset="0.25" stop-color="#f8f2f5"/><stop offset="0.5" stop-color="#eddfe8"/><stop offset="0.75" stop-color="#dfc6d5"/><stop offset="1" stop-color="#cfa7c0"/></linearGradient><linearGradient id="gj24" x1="0" y1="0" x2="0" y2="1"><stop offset="0" stop-color="#fdfbfd"/><stop offset="0.25" stop-color="#f7f2f6"/><stop offset="0.5" stop-color="#ecdfe8"/><stop offset="0.75" stop-color="#ddc6d7"/><stop offset="1" stop-color="#cba7c2"/></linearGradient><linearGradient id="gj25" x1="0" y1="0" x2="0" y2="1"><stop offset="0" stop-color="#fdfbfd"/><stop offset="0.25" stop-color="#f7f2f6"/><stop offset="0.5" stop-color="#eadfe9"/><stop offset="0.75" stop-color="#dac6d8"/><stop offset="1" stop-color="#c7a7c3"/></linearGradient><linearGradient id="gj26" x1="0" y1="0" x2="0" y2="1"><stop offset="0" stop-color="#fdfcfd"/><stop offset="0.25" stop-color="#f6f2f6"/><stop offset="0.5" stop-color="#e9dfea"/><stop offset="0.75" stop-color="#d8c6d9"/><stop offset="1" stop-color="#c3a8c5"/></linearGradient><linearGradient id="gj27" x1="0" y1="0" x2="0" y2="1"><stop offset="0" stop-color="#fcfcfd"/><stop offset="0.25" stop-color="#f5f2f7"/><stop offset="0.5" stop-color="#e8dfeb"/><stop offset="0.75" stop-color="#d5c6db"/><stop offset="1" stop-color="#bfa8c7"/></linearGradient><linearGradient id="gj28" x1="0" y1="0" x2="0" y2="1"><stop offset="0" stop-color="#fcfcfd"/><stop offset="0.25" stop-color="#f5f2f7"/><stop offset="0.5" stop-color="#e6dfeb"/><stop offset="0.75" stop-color="#d3c6dc"/><stop offset="1" stop-color="#bba8c9"/></linearGradient><linearGradient id="gj29" x1="0" y1="0" x2="0" y2="1"><stop offset="0" stop-color="#fcfcfd"/><stop offset="0.25" stop-color="#f4f2f7"/><stop offset="0.5" stop-color="#e5dfec"/><stop offset="0.75" stop-color="#d0c6dd"/><stop offset="1" stop-color="#b8a8cb"/></linearGradient><linearGradient id="gj30" x1="0" y1="0" x2="0" y2="1"><stop offset="0" stop-color="#fcfcfd"/><stop offset="0.25" stop-color="#f4f2f7"/><stop offset="0.5" stop-color="#e3dfed"/><stop offset="0.75" stop-color="#cec6de"/><stop offset="1" stop-color="#b4a8cd"/></linearGradient><linearGradient id="gj31" x1="0" y1="0" x2="0" y2="1"><stop offset="0" stop-color="#fcfcfd"/><stop offset="0.25" stop-color="#f3f2f8"/><stop offset="0.5" stop-color="#e2dfed"/><stop offset="0.75" stop-color="#ccc6df"/><stop offset="1" stop-color="#b1a8cf"/></linearGradient><linearGradient id="gj32" x1="0" y1="0" x2="0" y2="1"><stop offset="0" stop-color="#fcfcfd"/><stop offset="0.25" stop-color="#f3f2f8"/><stop offset="0.5" stop-color="#e1dfee"/><stop offset="0.75" stop-color="#c9c6e0"/><stop offset="1" stop-color="#ada8d0"/></linearGradient><linearGradient id="gj33" x1="0" y1="0" x2="0" y2="1"><stop offset="0" stop-color="#fcfcfd"/><stop offset="0.25" stop-color="#f2f2f8"/><stop offset="0.5" stop-color="#e0dfee"/><stop offset="0.75" stop-color="#c7c6e1"/><stop offset="1" stop-color="#aaa9d2"/></linearGradient><linearGradient id="gj34" x1="0" y1="0" x2="0" y2="1"><stop offset="0" stop-color="#fbfcfd"/><stop offset="0.25" stop-color="#f2f2f8"/><stop offset="0.5" stop-color="#dfdfef"/><stop offset="0.75" stop-color="#c6c6e2"/><stop offset="1" stop-color="#a7a9d3"/></linearGradient><linearGradient id="gj35" x1="0" y1="0" x2="0" y2="1"><stop offset="0" stop-color="#fbfcfd"/><stop offset="0.25" stop-color="#f1f2f9"/><stop offset="0.5" stop-color="#dedfef"/><stop offset="0.75" stop-color="#c4c7e3"/><stop offset="1" stop-color="#a5a9d5"/></linearGradient><linearGradient id="gj36" x1="0" y1="0" x2="0" y2="1"><stop offset="0" stop-color="#fbfcfd"/><stop offset="0.25" stop-color="#f1f2f9"/><stop offset="0.5" stop-color="#dddff0"/><stop offset="0.75" stop-color="#c3c7e4"/><stop offset="1" stop-color="#a3a9d6"/></linearGradient><linearGradient id="gj37" x1="0" y1="0" x2="0" y2="1"><stop offset="0" stop-color="#fbfcfd"/><stop offset="0.25" stop-color="#f1f2f9"/><stop offset="0.5" stop-color="#dcdff0"/><stop offset="0.75" stop-color="#c1c7e4"/><stop offset="1" stop-color="#a1a9d7"/></linearGradient><linearGradient id="gj38" x1="0" y1="0" x2="0" y2="1"><stop offset="0" stop-color="#fbfcfd"/><stop offset="0.25" stop-color="#f0f2f9"/><stop offset="0.5" stop-color="#dcdff0"/><stop offset="0.75" stop-color="#c1c7e5"/><stop offset="1" stop-color="#a0a9d7"/></linearGradient><linearGradient id="gj39" x1="0" y1="0" x2="0" y2="1"><stop offset="0" stop-color="#fbfcfd"/><stop offset="0.25" stop-color="#f0f2f9"/><stop offset="0.5" stop-color="#dcdff1"/><stop offset="0.75" stop-color="#c0c7e5"/><stop offset="1" stop-color="#9fa9d8"/></linearGradient><linearGradient id="gj40" x1="0" y1="0" x2="0" y2="1"><stop offset="0" stop-color="#fbfcfd"/><stop offset="0.25" stop-color="#f0f2f9"/><stop offset="0.5" stop-color="#dbdff1"/><stop offset="0.75" stop-color="#c0c7e5"/><stop offset="1" stop-color="#9ea9d8"/></linearGradient><linearGradient id="gj41" x1="0" y1="0" x2="0" y2="1"><stop offset="0" stop-color="#fbfcfd"/><stop offset="0.25" stop-color="#f0f2f9"/><stop offset="0.5" stop-color="#dbdff1"/><stop offset="0.75" stop-color="#c0c7e5"/><stop offset="1" stop-color="#9ea9d8"/></linearGradient><linearGradient id="gj42" x1="0" y1="0" x2="0" y2="1"><stop offset="0" stop-color="#fbfcfd"/><stop offset="0.25" stop-color="#f0f2f9"/><stop offset="0.5" stop-color="#dbdff1"/><stop offset="0.75" stop-color="#c0c7e5"/><stop offset="1" stop-color="#9ea9d8"/></linearGradient><linearGradient id="gj43" x1="0" y1="0" x2="0" y2="1"><stop offset="0" stop-color="#fbfcfd"/><stop offset="0.25" stop-color="#f0f2f9"/><stop offset="0.5" stop-color="#dbdff1"/><stop offset="0.75" stop-color="#c0c7e5"/><stop offset="1" stop-color="#9ea9d8"/></linearGradient><linearGradient id="gj44" x1="0" y1="0" x2="0" y2="1"><stop offset="0" stop-color="#fbfcfd"/><stop offset="0.25" stop-color="#f0f2f9"/><stop offset="0.5" stop-color="#dbdff1"/><stop offset="0.75" stop-color="#c0c7e5"/><stop offset="1" stop-color="#9ea9d8"/></linearGradient><linearGradient id="gj45" x1="0" y1="0" x2="0" y2="1"><stop offset="0" stop-color="#fbfcfd"/><stop offset="0.25" stop-color="#f1f2f9"/><stop offset="0.5" stop-color="#dddff0"/><stop offset="0.75" stop-color="#c3c7e4"/><stop offset="1" stop-color="#a3a9d5"/></linearGradient><linearGradient id="gj46" x1="0" y1="0" x2="0" y2="1"><stop offset="0" stop-color="#fcfcfd"/><stop offset="0.25" stop-color="#f3f2f8"/><stop offset="0.5" stop-color="#e1dfee"/><stop offset="0.75" stop-color="#c9c6e1"/><stop offset="1" stop-color="#ada8d1"/></linearGradient><linearGradient id="gj47" x1="0" y1="0" x2="0" y2="1"><stop offset="0" stop-color="#fcfcfd"/><stop offset="0.25" stop-color="#f4f2f7"/><stop offset="0.5" stop-color="#e5dfec"/><stop offset="0.75" stop-color="#d1c6dc"/><stop offset="1" stop-color="#b9a8ca"/></linearGradient><linearGradient id="gj48" x1="0" y1="0" x2="0" y2="1"><stop offset="0" stop-color="#fdfbfd"/><stop offset="0.25" stop-color="#f7f2f6"/><stop offset="0.5" stop-color="#ebdfe9"/><stop offset="0.75" stop-color="#dbc6d8"/><stop offset="1" stop-color="#c8a7c3"/></linearGradient><linearGradient id="gj49" x1="0" y1="0" x2="0" y2="1"><stop offset="0" stop-color="#fdfbfc"/><stop offset="0.25" stop-color="#f9f2f5"/><stop offset="0.5" stop-color="#f0dfe6"/><stop offset="0.75" stop-color="#e4c5d3"/><stop offset="1" stop-color="#d5a7bc"/></linearGradient><linearGradient id="gj50" x1="0" y1="0" x2="0" y2="1"><stop offset="0" stop-color="#fefbfc"/><stop offset="0.25" stop-color="#fbf2f4"/><stop offset="0.5" stop-color="#f4dee4"/><stop offset="0.75" stop-color="#ecc5cf"/><stop offset="1" stop-color="#e2a6b6"/></linearGradient><linearGradient id="gj51" x1="0" y1="0" x2="0" y2="1"><stop offset="0" stop-color="#fefbfc"/><stop offset="0.25" stop-color="#fcf1f3"/><stop offset="0.5" stop-color="#f7dee3"/><stop offset="0.75" stop-color="#f1c5cd"/><stop offset="1" stop-color="#eaa6b2"/></linearGradient><linearGradient id="gj52" x1="0" y1="0" x2="0" y2="1"><stop offset="0" stop-color="#fefbfc"/><stop offset="0.25" stop-color="#fcf1f3"/><stop offset="0.5" stop-color="#f9dee2"/><stop offset="0.75" stop-color="#f4c5cb"/><stop offset="1" stop-color="#eea6b0"/></linearGradient></defs><rect x="458.7" y="386.8" width="3.5" height="126.8" fill="url(#gj0)"/><rect x="461.7" y="386.8" width="3.5" height="126.8" fill="url(#gj1)"/><rect x="464.7" y="386.8" width="3.5" height="126.8" fill="url(#gj2)"/><rect x="467.7" y="386.8" width="3.5" height="126.8" fill="url(#gj3)"/><rect x="470.7" y="386.8" width="3.5" height="126.8" fill="url(#gj4)"/><rect x="473.7" y="386.8" width="3.5" height="126.8" fill="url(#gj5)"/><rect x="476.7" y="386.8" width="3.5" height="126.8" fill="url(#gj6)"/><rect x="479.7" y="386.8" width="3.5" height="126.8" fill="url(#gj7)"/><rect x="482.7" y="386.8" width="3.5" height="126.8" fill="url(#gj8)"/><rect x="485.7" y="386.8" width="3.5" height="126.8" fill="url(#gj9)"/><rect x="488.7" y="386.8" width="3.5" height="126.8" fill="url(#gj10)"/><rect x="491.7" y="386.8" width="3.5" height="126.8" fill="url(#gj11)"/><rect x="494.7" y="386.8" width="3.5" height="126.8" fill="url(#gj12)"/><rect x="497.7" y="386.8" width="3.5" height="126.8" fill="url(#gj13)"/><rect x="500.7" y="386.8" width="3.5" height="126.8" fill="url(#gj14)"/><rect x="503.7" y="386.8" width="3.5" height="126.8" fill="url(#gj15)"/><rect x="506.7" y="386.8" width="3.5" height="126.8" fill="url(#gj16)"/><rect x="509.7" y="386.8" width="3.5" height="126.8" fill="url(#gj17)"/><rect x="512.7" y="386.8" width="3.5" height="126.8" fill="url(#gj18)"/><rect x="515.7" y="386.8" width="3.5" height="126.8" fill="url(#gj19)"/><rect x="518.7" y="386.8" width="3.5" height="126.8" fill="url(#gj20)"/><rect x="521.7" y="386.8" width="3.5" height="126.8" fill="url(#gj21)"/><rect x="524.7" y="386.8" width="3.5" height="126.8" fill="url(#gj22)"/><rect x="527.7" y="386.8" width="3.5" height="126.8" fill="url(#gj23)"/><rect x="530.7" y="386.8" width="3.5" height="126.8" fill="url(#gj24)"/><rect x="533.7" y="386.8" width="3.5" height="126.8" fill="url(#gj25)"/><rect x="536.7" y="386.8" width="3.5" height="126.8" fill="url(#gj26)"/><rect x="539.7" y="386.8" width="3.5" height="126.8" fill="url(#gj27)"/><rect x="542.7" y="386.8" width="3.5" height="126.8" fill="url(#gj28)"/><rect x="545.7" y="386.8" width="3.5" height="126.8" fill="url(#gj29)"/><rect x="548.7" y="386.8" width="3.5" height="126.8" fill="url(#gj30)"/><rect x="551.7" y="386.8" width="3.5" height="126.8" fill="url(#gj31)"/><rect x="554.7" y="386.8" width="3.5" height="126.8" fill="url(#gj32)"/><rect x="557.7" y="386.8" width="3.5" height="126.8" fill="url(#gj33)"/><rect x="560.7" y="386.8" width="3.5" height="126.8" fill="url(#gj34)"/><rect x="563.7" y="386.8" width="3.5" height="126.8" fill="url(#gj35)"/><rect x="566.7" y="386.8" width="3.5" height="126.8" fill="url(#gj36)"/><rect x="569.7" y="386.8" width="3.5" height="126.8" fill="url(#gj37)"/><rect x="572.7" y="386.8" width="3.5" height="126.8" fill="url(#gj38)"/><rect x="575.7" y="386.8" width="3.5" height="126.8" fill="url(#gj39)"/><rect x="578.7" y="386.8" width="3.5" height="126.8" fill="url(#gj40)"/><rect x="581.7" y="386.8" width="3.5" height="126.8" fill="url(#gj41)"/><rect x="584.7" y="386.8" width="3.5" height="126.8" fill="url(#gj42)"/><rect x="587.7" y="386.8" width="3.5" height="126.8" fill="url(#gj43)"/><rect x="590.7" y="386.8" width="3.5" height="126.8" fill="url(#gj44)"/><rect x="593.7" y="386.8" width="3.5" height="126.8" fill="url(#gj45)"/><rect x="596.7" y="386.8" width="3.5" height="126.8" fill="url(#gj46)"/><rect x="599.7" y="386.8" width="3.5" height="126.8" fill="url(#gj47)"/><rect x="602.7" y="386.8" width="3.5" height="126.8" fill="url(#gj48)"/><rect x="605.7" y="386.8" width="3.5" height="126.8" fill="url(#gj49)"/><rect x="608.7" y="386.8" width="3.5" height="126.8" fill="url(#gj50)"/><rect x="611.7" y="386.8" width="3.5" height="126.8" fill="url(#gj51)"/><rect x="614.7" y="386.8" width="1.8" height="126.8" fill="url(#gj52)"/>
<path d="M463 501.5L466.9 502.3L469.8 502.6L471.7 502.5L472.7 502.3L474.6 501.7L475.6 501.3L477.6 500.2L480.5 498.2L483.4 495.8L486.3 493L489.2 489.8L491.1 487.4L493.1 484.7L496 480.4L497.9 477.3L500.8 472.4L508.6 458.8L511.5 453.8L515.4 447.7L518.3 443.5L522.2 438.5L526.1 434L530.9 429L535.8 424.6L539.6 421.4L544.5 417.8L550.3 413.9L553.2 412.2L556.1 410.5L560 408.5L568.8 404.6L569.9 403.6L571.1 402.6L572.5 401.8L573.9 401.2L575.5 400.6L577 400.2L578.6 400L580.2 399.9L581.8 399.9L583.4 400.2L584.9 400.5L586.3 401.1L587.7 401.9L588.9 402.8L590 403.8L591 405L592 406.2L593.8 408.9L596.2 413L597.6 415.7L599 418.5L600.2 421.3L601.2 424.2L602.2 427.1L603.9 433.1L606 442.2L606.9 446.8L607.8 451.3L608.9 459L609.8 468.2L610.5 477.5L610.9 486.8L611.1 499.2" fill="none" stroke="#c8c8c8" stroke-width="0.9"/>
<defs><linearGradient id="jl" gradientUnits="userSpaceOnUse" x1="0" y1="500" x2="0" y2="398"><stop offset="0" stop-color="#e84850"/><stop offset="0.55" stop-color="#d85868"/><stop offset="0.85" stop-color="#9c6a9c"/><stop offset="1" stop-color="#6870c0"/></linearGradient></defs>
<path d="M463 501.5L467.9 501.6L469.8 501.5L471.7 501.2L474.6 500.4L476.6 499.7L478.5 498.7L480.5 497.6L482.4 496.4L484.3 495L487.3 492.7L489.2 491L492.1 488.3L494 486.3L496 484.2L497.9 481.8L499.9 479L501.8 475.7L503.7 472L506.7 465.6L515.4 445L518.3 438.7L521.2 433.1L524.1 428.4L527 424.4L529.9 420.9L531.9 418.9L533.8 417.1L535.8 415.4L537.7 413.8L539.6 412.4L542.5 410.5L546.4 408.2L548.4 407.2L551.3 405.9L556.1 404L561 402.5L566.8 401.2L573.6 400L578.4 399.3L579.7 399.4L580.8 399.6L582 399.8L583 400.2L584.1 400.7L586 401.9L587.8 403.3L589.5 404.9L591 406.7L592.4 408.6L594.4 411.5L595.6 413.4L597.3 416.4L598.3 418.5L599.2 420.6L600.4 423.8L602.2 429.3L604.4 437.1L606.2 444.9L607.5 451.7L608.5 458.6L609.5 466.6L610.8 479.2" fill="none" stroke="url(#jl)" stroke-width="1.1"/>
<circle cx="472.62" cy="502.3" r="3.2" fill="#ececec" stroke="#c8c8c8" stroke-width="0.8"/>
<circle cx="482.24" cy="496.8" r="3.2" fill="#ececec" stroke="#c8c8c8" stroke-width="0.8"/>
<circle cx="491.86" cy="486.4" r="3.2" fill="#ececec" stroke="#c8c8c8" stroke-width="0.8"/>
<circle cx="501.48" cy="471.3" r="3.2" fill="#ececec" stroke="#c8c8c8" stroke-width="0.8"/>
<circle cx="511.1" cy="454.5" r="3.2" fill="#ececec" stroke="#c8c8c8" stroke-width="0.8"/>
<circle cx="520.72" cy="440.3" r="3.2" fill="#ececec" stroke="#c8c8c8" stroke-width="0.8"/>
<circle cx="530.34" cy="429.6" r="3.2" fill="#ececec" stroke="#c8c8c8" stroke-width="0.8"/>
<circle cx="539.96" cy="421.1" r="3.2" fill="#ececec" stroke="#c8c8c8" stroke-width="0.8"/>
<circle cx="549.58" cy="414.4" r="3.2" fill="#ececec" stroke="#c8c8c8" stroke-width="0.8"/>
<circle cx="559.2" cy="408.9" r="3.2" fill="#ececec" stroke="#c8c8c8" stroke-width="0.8"/>
<circle cx="568.82" cy="404.6" r="3.2" fill="#ececec" stroke="#c8c8c8" stroke-width="0.8"/>
<circle cx="611.3" cy="499.0" r="3.2" fill="#ececec" stroke="#c8c8c8" stroke-width="0.8"/>
<polygon points="466.12,503.3 463,505.1 459.88,503.3 459.88,499.7 463,497.9 466.12,499.7" fill="#fbe0e2" stroke="#f43848" stroke-width="1.1"/>
<polygon points="504.6,478.1 501.48,479.9 498.36,478.1 498.36,474.5 501.48,472.7 504.6,474.5" fill="#f8d0d4" stroke="#ec4050" stroke-width="1.1"/>
<polygon points="613.92,481 610.8,482.8 607.68,481 607.68,477.4 610.8,475.6 613.92,477.4" fill="#ffffff" stroke="#f43848" stroke-width="1.1"/>
<polygon points="543.08,414 539.96,415.8 536.84,414 536.84,410.4 539.96,408.6 543.08,410.4" fill="#c8b0d8" stroke="#8c5ca8" stroke-width="1.1"/>
<polygon points="581.56,401.1 578.44,402.9 575.32,401.1 575.32,397.5 578.44,395.7 581.56,397.5" fill="#aab2e6" stroke="#5a68c4" stroke-width="1.1"/>
<rect x="458.7" y="386.8" width="157.8" height="126.8" fill="none" stroke="#555" stroke-width="1"/>
<line x1="463" y1="513.6" x2="463" y2="511.1" stroke="#555" stroke-width="0.8"/>
<text x="463" y="522" font-size="7.2" text-anchor="middle" fill="#000" stroke="#000" stroke-width="0.15">0</text>
<line x1="482.24" y1="513.6" x2="482.24" y2="512.1" stroke="#555" stroke-width="0.8"/>
<line x1="501.48" y1="513.6" x2="501.48" y2="511.1" stroke="#555" stroke-width="0.8"/>
<text x="501.48" y="522" font-size="7.2" text-anchor="middle" fill="#000" stroke="#000" stroke-width="0.15">4</text>
<line x1="520.72" y1="513.6" x2="520.72" y2="512.1" stroke="#555" stroke-width="0.8"/>
<line x1="539.96" y1="513.6" x2="539.96" y2="511.1" stroke="#555" stroke-width="0.8"/>
<text x="539.96" y="522" font-size="7.2" text-anchor="middle" fill="#000" stroke="#000" stroke-width="0.15">8</text>
<line x1="559.2" y1="513.6" x2="559.2" y2="512.1" stroke="#555" stroke-width="0.8"/>
<line x1="578.44" y1="513.6" x2="578.44" y2="511.1" stroke="#555" stroke-width="0.8"/>
<text x="578.44" y="522" font-size="7.2" text-anchor="middle" fill="#000" stroke="#000" stroke-width="0.15">12</text>
<line x1="597.68" y1="513.6" x2="597.68" y2="512.1" stroke="#555" stroke-width="0.8"/>
<line x1="610.8" y1="513.6" x2="610.8" y2="511.1" stroke="#555" stroke-width="0.8"/>
<text x="610.8" y="522" font-size="7.2" text-anchor="middle" fill="#f03c48" font-style="italic" stroke="#f03c48" stroke-width="0.15">Acid</text>
<line x1="458.7" y1="513.9" x2="461.2" y2="513.9" stroke="#555" stroke-width="0.8"/>
<text x="455.5" y="516.4" font-size="7.2" text-anchor="end" fill="#000" stroke="#000" stroke-width="0.15">1.94</text>
<line x1="458.7" y1="498" x2="460.2" y2="498" stroke="#555" stroke-width="0.8"/>
<line x1="458.7" y1="482.1" x2="461.2" y2="482.1" stroke="#555" stroke-width="0.8"/>
<text x="455.5" y="484.6" font-size="7.2" text-anchor="end" fill="#000" stroke="#000" stroke-width="0.15">1.96</text>
<line x1="458.7" y1="466.2" x2="460.2" y2="466.2" stroke="#555" stroke-width="0.8"/>
<line x1="458.7" y1="450.3" x2="461.2" y2="450.3" stroke="#555" stroke-width="0.8"/>
<text x="455.5" y="452.8" font-size="7.2" text-anchor="end" fill="#000" stroke="#000" stroke-width="0.15">1.98</text>
<line x1="458.7" y1="434.4" x2="460.2" y2="434.4" stroke="#555" stroke-width="0.8"/>
<line x1="458.7" y1="418.5" x2="461.2" y2="418.5" stroke="#555" stroke-width="0.8"/>
<text x="455.5" y="421" font-size="7.2" text-anchor="end" fill="#000" stroke="#000" stroke-width="0.15">2.00</text>
<line x1="458.7" y1="402.6" x2="460.2" y2="402.6" stroke="#555" stroke-width="0.8"/>
<line x1="458.7" y1="386.7" x2="461.2" y2="386.7" stroke="#555" stroke-width="0.8"/>
<text x="455.5" y="389.2" font-size="7.2" text-anchor="end" fill="#000" stroke="#000" stroke-width="0.15">2.02</text>
<line x1="616.5" y1="505.45" x2="615" y2="505.45" stroke="#555" stroke-width="0.8"/>
<line x1="616.5" y1="491.7" x2="614" y2="491.7" stroke="#555" stroke-width="0.8"/>
<text x="619.6" y="494.2" font-size="7.2" text-anchor="start" fill="#000" stroke="#000" stroke-width="0.15">16</text>
<line x1="616.5" y1="477.95" x2="615" y2="477.95" stroke="#555" stroke-width="0.8"/>
<line x1="616.5" y1="464.2" x2="614" y2="464.2" stroke="#555" stroke-width="0.8"/>
<text x="619.6" y="466.7" font-size="7.2" text-anchor="start" fill="#000" stroke="#000" stroke-width="0.15">18</text>
<line x1="616.5" y1="450.45" x2="615" y2="450.45" stroke="#555" stroke-width="0.8"/>
<line x1="616.5" y1="436.7" x2="614" y2="436.7" stroke="#555" stroke-width="0.8"/>
<text x="619.6" y="439.2" font-size="7.2" text-anchor="start" fill="#000" stroke="#000" stroke-width="0.15">20</text>
<line x1="616.5" y1="422.95" x2="615" y2="422.95" stroke="#555" stroke-width="0.8"/>
<line x1="616.5" y1="409.2" x2="614" y2="409.2" stroke="#555" stroke-width="0.8"/>
<text x="619.6" y="411.7" font-size="7.2" text-anchor="start" fill="#000" stroke="#000" stroke-width="0.15">22</text>
<line x1="616.5" y1="395.45" x2="615" y2="395.45" stroke="#555" stroke-width="0.8"/>
<text x="520.9" y="531" font-size="8.4" text-anchor="middle" fill="#000" font-style="italic" stroke="#000" stroke-width="0.18">Base equivalent</text>
<text x="438" y="449.9" font-size="8.6" text-anchor="middle" fill="#000" stroke="#000" stroke-width="0.18" transform="rotate(-90 438 449.9)"><tspan font-style="italic">d</tspan> (Fe–N) / Å</text>
<text x="637.9" y="449.5" font-size="8.5" text-anchor="middle" fill="#000" stroke="#000" stroke-width="0.18" transform="rotate(-90 637.9 449.5)"><tspan font-style="italic">χ</tspan><tspan font-size="5" dy="1.5">M</tspan><tspan dy="-1.5" font-style="italic">T</tspan> / cm<tspan font-size="5" dy="-2.5">3</tspan><tspan dy="2.5"> mol</tspan><tspan font-size="5" dy="-2.5">-1</tspan><tspan dy="2.5"> K</tspan></text>
<text x="429" y="384.7" font-size="10.8" text-anchor="start" fill="#000" stroke="#000" stroke-width="0.4">(j)</text>
</svg>
</body></html>
